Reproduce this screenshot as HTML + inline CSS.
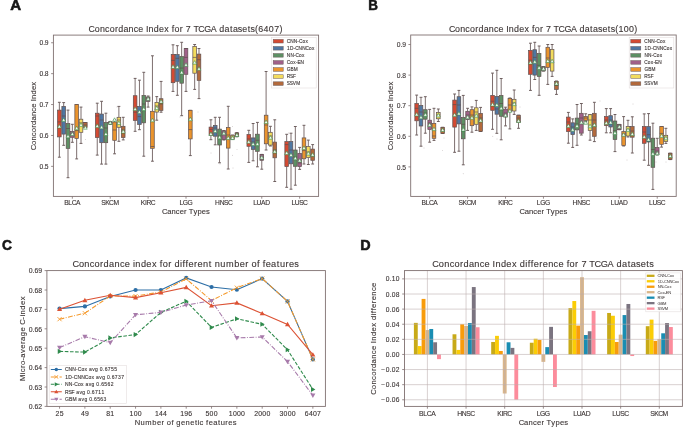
<!DOCTYPE html>
<html><head><meta charset="utf-8"><style>
html,body{margin:0;padding:0;background:#fff;}
svg{display:block;will-change:transform;}
text{font-family:"Liberation Sans", sans-serif;stroke:#3b3434;stroke-width:0.18px;stroke-opacity:0.6;}
</style></head><body>
<svg width="685" height="429" viewBox="0 0 685 429">
<rect width="685" height="429" fill="#fff"/>
<text x="10.3" y="9.6" font-size="14" fill="#161616" font-weight="bold" textLength="10.9" lengthAdjust="spacingAndGlyphs" style="stroke:#161616;stroke-width:0.55px;stroke-opacity:1">A</text>
<text x="368.3" y="9.6" font-size="14" fill="#161616" font-weight="bold" textLength="9.7" lengthAdjust="spacingAndGlyphs" style="stroke:#161616;stroke-width:0.55px;stroke-opacity:1">B</text>
<text x="1.9" y="250.2" font-size="14" fill="#161616" font-weight="bold" textLength="10" lengthAdjust="spacingAndGlyphs" style="stroke:#161616;stroke-width:0.55px;stroke-opacity:1">C</text>
<text x="360.2" y="250.3" font-size="14" fill="#161616" font-weight="bold" textLength="10.4" lengthAdjust="spacingAndGlyphs" style="stroke:#161616;stroke-width:0.55px;stroke-opacity:1">D</text>
<g font-family='"Liberation Sans", sans-serif'>
<circle cx="85.3" cy="139.5" r="0.45" fill="#b0a6a6"/>
<circle cx="211" cy="153" r="0.45" fill="#b0a6a6"/>
<circle cx="232.4" cy="155.3" r="0.45" fill="#b0a6a6"/>
<circle cx="237" cy="149.4" r="0.45" fill="#b0a6a6"/>
<circle cx="232.4" cy="126.4" r="0.45" fill="#b0a6a6"/>
<circle cx="117" cy="107" r="0.45" fill="#b0a6a6"/>
<circle cx="100.5" cy="114" r="0.45" fill="#b0a6a6"/>
<circle cx="180" cy="117" r="0.45" fill="#b0a6a6"/>
<circle cx="288.5" cy="133" r="0.45" fill="#b0a6a6"/>
<circle cx="220" cy="164" r="0.45" fill="#b0a6a6"/>
<circle cx="233" cy="168" r="0.45" fill="#b0a6a6"/>
<circle cx="198" cy="112" r="0.45" fill="#b0a6a6"/>
<line x1="59.35" y1="102.3" x2="59.35" y2="110.1" stroke="#6e5f5f" stroke-width="0.9"/>
<line x1="59.35" y1="136.9" x2="59.35" y2="157.2" stroke="#6e5f5f" stroke-width="0.9"/>
<line x1="57.92" y1="102.3" x2="60.78" y2="102.3" stroke="#6e5f5f" stroke-width="1"/>
<line x1="57.92" y1="157.2" x2="60.78" y2="157.2" stroke="#6e5f5f" stroke-width="1"/>
<rect x="57.54" y="110.1" width="3.63" height="26.8" fill="#d44a32" stroke="#5e4e4e" stroke-width="0.7"/>
<line x1="57.54" y1="121.9" x2="61.17" y2="121.9" stroke="#5e4e4e" stroke-width="0.7"/>
<line x1="63.68" y1="102.6" x2="63.68" y2="106.4" stroke="#6e5f5f" stroke-width="0.9"/>
<line x1="63.68" y1="134.1" x2="63.68" y2="145.3" stroke="#6e5f5f" stroke-width="0.9"/>
<line x1="62.25" y1="102.6" x2="65.11" y2="102.6" stroke="#6e5f5f" stroke-width="1"/>
<line x1="62.25" y1="145.3" x2="65.11" y2="145.3" stroke="#6e5f5f" stroke-width="1"/>
<rect x="61.87" y="106.4" width="3.63" height="27.7" fill="#4f77a2" stroke="#5e4e4e" stroke-width="0.7"/>
<line x1="61.87" y1="116" x2="65.5" y2="116" stroke="#5e4e4e" stroke-width="0.7"/>
<line x1="68.01" y1="110.1" x2="68.01" y2="123.6" stroke="#6e5f5f" stroke-width="0.9"/>
<line x1="68.01" y1="148.4" x2="68.01" y2="177.7" stroke="#6e5f5f" stroke-width="0.9"/>
<line x1="66.58" y1="110.1" x2="69.44" y2="110.1" stroke="#6e5f5f" stroke-width="1"/>
<line x1="66.58" y1="177.7" x2="69.44" y2="177.7" stroke="#6e5f5f" stroke-width="1"/>
<rect x="66.2" y="123.6" width="3.63" height="24.8" fill="#5d9064" stroke="#5e4e4e" stroke-width="0.7"/>
<line x1="66.2" y1="128.5" x2="69.83" y2="128.5" stroke="#5e4e4e" stroke-width="0.7"/>
<line x1="72.34" y1="124.3" x2="72.34" y2="131.5" stroke="#6e5f5f" stroke-width="0.9"/>
<line x1="72.34" y1="137.3" x2="72.34" y2="142.3" stroke="#6e5f5f" stroke-width="0.9"/>
<line x1="70.91" y1="124.3" x2="73.77" y2="124.3" stroke="#6e5f5f" stroke-width="1"/>
<line x1="70.91" y1="142.3" x2="73.77" y2="142.3" stroke="#6e5f5f" stroke-width="1"/>
<rect x="70.53" y="131.5" width="3.63" height="5.8" fill="#a06089" stroke="#5e4e4e" stroke-width="0.7"/>
<line x1="70.53" y1="134" x2="74.16" y2="134" stroke="#5e4e4e" stroke-width="0.7"/>
<line x1="76.67" y1="104.5" x2="76.67" y2="104.5" stroke="#6e5f5f" stroke-width="0.9"/>
<line x1="76.67" y1="138.4" x2="76.67" y2="158.9" stroke="#6e5f5f" stroke-width="0.9"/>
<line x1="75.24" y1="104.5" x2="78.1" y2="104.5" stroke="#6e5f5f" stroke-width="1"/>
<line x1="75.24" y1="158.9" x2="78.1" y2="158.9" stroke="#6e5f5f" stroke-width="1"/>
<rect x="74.86" y="104.5" width="3.63" height="33.9" fill="#ea942d" stroke="#5e4e4e" stroke-width="0.7"/>
<line x1="74.86" y1="130.6" x2="78.49" y2="130.6" stroke="#5e4e4e" stroke-width="0.7"/>
<line x1="81" y1="107.1" x2="81" y2="119.2" stroke="#6e5f5f" stroke-width="0.9"/>
<line x1="81" y1="132.3" x2="81" y2="143.4" stroke="#6e5f5f" stroke-width="0.9"/>
<line x1="79.57" y1="107.1" x2="82.43" y2="107.1" stroke="#6e5f5f" stroke-width="1"/>
<line x1="79.57" y1="143.4" x2="82.43" y2="143.4" stroke="#6e5f5f" stroke-width="1"/>
<rect x="79.19" y="119.2" width="3.63" height="13.1" fill="#f3dc5e" stroke="#5e4e4e" stroke-width="0.7"/>
<line x1="79.19" y1="122.9" x2="82.82" y2="122.9" stroke="#5e4e4e" stroke-width="0.7"/>
<line x1="85.33" y1="122.5" x2="85.33" y2="122.6" stroke="#6e5f5f" stroke-width="0.9"/>
<line x1="85.33" y1="127.6" x2="85.33" y2="128" stroke="#6e5f5f" stroke-width="0.9"/>
<line x1="83.9" y1="122.5" x2="86.76" y2="122.5" stroke="#6e5f5f" stroke-width="1"/>
<line x1="83.9" y1="128" x2="86.76" y2="128" stroke="#6e5f5f" stroke-width="1"/>
<rect x="83.52" y="122.6" width="3.63" height="5" fill="#b3693b" stroke="#5e4e4e" stroke-width="0.7"/>
<line x1="83.52" y1="125" x2="87.15" y2="125" stroke="#5e4e4e" stroke-width="0.7"/>
<path d="M59.35 124.5L57.45 128.02L61.25 128.02Z" fill="#f6faf6" stroke="#2e8b3e" stroke-width="0.55"/>
<path d="M63.68 117.9L61.78 121.41L65.58 121.41Z" fill="#f6faf6" stroke="#2e8b3e" stroke-width="0.55"/>
<path d="M68.01 134.3L66.11 137.81L69.91 137.81Z" fill="#f6faf6" stroke="#2e8b3e" stroke-width="0.55"/>
<path d="M72.34 132L70.44 135.52L74.24 135.52Z" fill="#f6faf6" stroke="#2e8b3e" stroke-width="0.55"/>
<path d="M76.67 126.2L74.77 129.72L78.57 129.72Z" fill="#f6faf6" stroke="#2e8b3e" stroke-width="0.55"/>
<path d="M81 122.9L79.1 126.41L82.9 126.41Z" fill="#f6faf6" stroke="#2e8b3e" stroke-width="0.55"/>
<path d="M85.33 125.7L83.43 129.22L87.23 129.22Z" fill="#f6faf6" stroke="#2e8b3e" stroke-width="0.55"/>
<line x1="97.24" y1="103.2" x2="97.24" y2="113.2" stroke="#6e5f5f" stroke-width="0.9"/>
<line x1="97.24" y1="137.6" x2="97.24" y2="155.1" stroke="#6e5f5f" stroke-width="0.9"/>
<line x1="95.81" y1="103.2" x2="98.67" y2="103.2" stroke="#6e5f5f" stroke-width="1"/>
<line x1="95.81" y1="155.1" x2="98.67" y2="155.1" stroke="#6e5f5f" stroke-width="1"/>
<rect x="95.42" y="113.2" width="3.63" height="24.4" fill="#d44a32" stroke="#5e4e4e" stroke-width="0.7"/>
<line x1="95.42" y1="116" x2="99.05" y2="116" stroke="#5e4e4e" stroke-width="0.7"/>
<line x1="101.57" y1="101.3" x2="101.57" y2="114.1" stroke="#6e5f5f" stroke-width="0.9"/>
<line x1="101.57" y1="142.7" x2="101.57" y2="164.1" stroke="#6e5f5f" stroke-width="0.9"/>
<line x1="100.14" y1="101.3" x2="103" y2="101.3" stroke="#6e5f5f" stroke-width="1"/>
<line x1="100.14" y1="164.1" x2="103" y2="164.1" stroke="#6e5f5f" stroke-width="1"/>
<rect x="99.75" y="114.1" width="3.63" height="28.6" fill="#4f77a2" stroke="#5e4e4e" stroke-width="0.7"/>
<line x1="99.75" y1="120" x2="103.38" y2="120" stroke="#5e4e4e" stroke-width="0.7"/>
<line x1="105.9" y1="113.2" x2="105.9" y2="122.6" stroke="#6e5f5f" stroke-width="0.9"/>
<line x1="105.9" y1="142.7" x2="105.9" y2="164.1" stroke="#6e5f5f" stroke-width="0.9"/>
<line x1="104.47" y1="113.2" x2="107.33" y2="113.2" stroke="#6e5f5f" stroke-width="1"/>
<line x1="104.47" y1="164.1" x2="107.33" y2="164.1" stroke="#6e5f5f" stroke-width="1"/>
<rect x="104.08" y="122.6" width="3.63" height="20.1" fill="#5d9064" stroke="#5e4e4e" stroke-width="0.7"/>
<line x1="104.08" y1="128" x2="107.71" y2="128" stroke="#5e4e4e" stroke-width="0.7"/>
<line x1="110.23" y1="121.5" x2="110.23" y2="121.8" stroke="#6e5f5f" stroke-width="0.9"/>
<line x1="110.23" y1="124" x2="110.23" y2="124.5" stroke="#6e5f5f" stroke-width="0.9"/>
<line x1="108.8" y1="121.5" x2="111.66" y2="121.5" stroke="#6e5f5f" stroke-width="1"/>
<line x1="108.8" y1="124.5" x2="111.66" y2="124.5" stroke="#6e5f5f" stroke-width="1"/>
<rect x="108.41" y="121.8" width="3.63" height="2.2" fill="#a06089" stroke="#5e4e4e" stroke-width="0.7"/>
<line x1="108.41" y1="122.5" x2="112.04" y2="122.5" stroke="#5e4e4e" stroke-width="0.7"/>
<line x1="114.56" y1="120" x2="114.56" y2="122" stroke="#6e5f5f" stroke-width="0.9"/>
<line x1="114.56" y1="140.3" x2="114.56" y2="153.8" stroke="#6e5f5f" stroke-width="0.9"/>
<line x1="113.13" y1="120" x2="115.99" y2="120" stroke="#6e5f5f" stroke-width="1"/>
<line x1="113.13" y1="153.8" x2="115.99" y2="153.8" stroke="#6e5f5f" stroke-width="1"/>
<rect x="112.74" y="122" width="3.63" height="18.3" fill="#ea942d" stroke="#5e4e4e" stroke-width="0.7"/>
<line x1="112.74" y1="130" x2="116.37" y2="130" stroke="#5e4e4e" stroke-width="0.7"/>
<line x1="118.89" y1="106.4" x2="118.89" y2="117.3" stroke="#6e5f5f" stroke-width="0.9"/>
<line x1="118.89" y1="127.3" x2="118.89" y2="141.3" stroke="#6e5f5f" stroke-width="0.9"/>
<line x1="117.46" y1="106.4" x2="120.32" y2="106.4" stroke="#6e5f5f" stroke-width="1"/>
<line x1="117.46" y1="141.3" x2="120.32" y2="141.3" stroke="#6e5f5f" stroke-width="1"/>
<rect x="117.07" y="117.3" width="3.63" height="10" fill="#f3dc5e" stroke="#5e4e4e" stroke-width="0.7"/>
<line x1="117.07" y1="120" x2="120.7" y2="120" stroke="#5e4e4e" stroke-width="0.7"/>
<line x1="123.22" y1="117.3" x2="123.22" y2="126.3" stroke="#6e5f5f" stroke-width="0.9"/>
<line x1="123.22" y1="137.6" x2="123.22" y2="139.9" stroke="#6e5f5f" stroke-width="0.9"/>
<line x1="121.79" y1="117.3" x2="124.65" y2="117.3" stroke="#6e5f5f" stroke-width="1"/>
<line x1="121.79" y1="139.9" x2="124.65" y2="139.9" stroke="#6e5f5f" stroke-width="1"/>
<rect x="121.4" y="126.3" width="3.63" height="11.3" fill="#b3693b" stroke="#5e4e4e" stroke-width="0.7"/>
<line x1="121.4" y1="130" x2="125.03" y2="130" stroke="#5e4e4e" stroke-width="0.7"/>
<path d="M97.24 123.9L95.34 127.41L99.14 127.41Z" fill="#f6faf6" stroke="#2e8b3e" stroke-width="0.55"/>
<path d="M101.57 125.3L99.67 128.81L103.47 128.81Z" fill="#f6faf6" stroke="#2e8b3e" stroke-width="0.55"/>
<path d="M105.9 132L104 135.52L107.8 135.52Z" fill="#f6faf6" stroke="#2e8b3e" stroke-width="0.55"/>
<path d="M110.23 120.8L108.33 124.31L112.13 124.31Z" fill="#f6faf6" stroke="#2e8b3e" stroke-width="0.55"/>
<path d="M114.56 117.8L112.66 121.31L116.46 121.31Z" fill="#f6faf6" stroke="#2e8b3e" stroke-width="0.55"/>
<path d="M118.89 121L116.99 124.52L120.79 124.52Z" fill="#f6faf6" stroke="#2e8b3e" stroke-width="0.55"/>
<path d="M123.22 129.6L121.32 133.12L125.12 133.12Z" fill="#f6faf6" stroke="#2e8b3e" stroke-width="0.55"/>
<line x1="135.12" y1="78.4" x2="135.12" y2="95.7" stroke="#6e5f5f" stroke-width="0.9"/>
<line x1="135.12" y1="120.4" x2="135.12" y2="131.3" stroke="#6e5f5f" stroke-width="0.9"/>
<line x1="133.7" y1="78.4" x2="136.55" y2="78.4" stroke="#6e5f5f" stroke-width="1"/>
<line x1="133.7" y1="131.3" x2="136.55" y2="131.3" stroke="#6e5f5f" stroke-width="1"/>
<rect x="133.31" y="95.7" width="3.63" height="24.7" fill="#d44a32" stroke="#5e4e4e" stroke-width="0.7"/>
<line x1="133.31" y1="112.2" x2="136.94" y2="112.2" stroke="#5e4e4e" stroke-width="0.7"/>
<line x1="139.45" y1="80.2" x2="139.45" y2="106.4" stroke="#6e5f5f" stroke-width="0.9"/>
<line x1="139.45" y1="124.4" x2="139.45" y2="129.7" stroke="#6e5f5f" stroke-width="0.9"/>
<line x1="138.03" y1="80.2" x2="140.88" y2="80.2" stroke="#6e5f5f" stroke-width="1"/>
<line x1="138.03" y1="129.7" x2="140.88" y2="129.7" stroke="#6e5f5f" stroke-width="1"/>
<rect x="137.64" y="106.4" width="3.63" height="18" fill="#4f77a2" stroke="#5e4e4e" stroke-width="0.7"/>
<line x1="137.64" y1="116.6" x2="141.27" y2="116.6" stroke="#5e4e4e" stroke-width="0.7"/>
<line x1="143.78" y1="72.3" x2="143.78" y2="95.4" stroke="#6e5f5f" stroke-width="0.9"/>
<line x1="143.78" y1="122.8" x2="143.78" y2="156.2" stroke="#6e5f5f" stroke-width="0.9"/>
<line x1="142.36" y1="72.3" x2="145.21" y2="72.3" stroke="#6e5f5f" stroke-width="1"/>
<line x1="142.36" y1="156.2" x2="145.21" y2="156.2" stroke="#6e5f5f" stroke-width="1"/>
<rect x="141.97" y="95.4" width="3.63" height="27.4" fill="#5d9064" stroke="#5e4e4e" stroke-width="0.7"/>
<line x1="141.97" y1="104" x2="145.6" y2="104" stroke="#5e4e4e" stroke-width="0.7"/>
<line x1="148.11" y1="96" x2="148.11" y2="97" stroke="#6e5f5f" stroke-width="0.9"/>
<line x1="148.11" y1="101.5" x2="148.11" y2="107.1" stroke="#6e5f5f" stroke-width="0.9"/>
<line x1="146.69" y1="96" x2="149.54" y2="96" stroke="#6e5f5f" stroke-width="1"/>
<line x1="146.69" y1="107.1" x2="149.54" y2="107.1" stroke="#6e5f5f" stroke-width="1"/>
<rect x="146.3" y="97" width="3.63" height="4.5" fill="#a06089" stroke="#5e4e4e" stroke-width="0.7"/>
<line x1="146.3" y1="99" x2="149.93" y2="99" stroke="#5e4e4e" stroke-width="0.7"/>
<line x1="152.44" y1="55.8" x2="152.44" y2="111.3" stroke="#6e5f5f" stroke-width="0.9"/>
<line x1="152.44" y1="148.3" x2="152.44" y2="161.2" stroke="#6e5f5f" stroke-width="0.9"/>
<line x1="151.02" y1="55.8" x2="153.87" y2="55.8" stroke="#6e5f5f" stroke-width="1"/>
<line x1="151.02" y1="161.2" x2="153.87" y2="161.2" stroke="#6e5f5f" stroke-width="1"/>
<rect x="150.63" y="111.3" width="3.63" height="37" fill="#ea942d" stroke="#5e4e4e" stroke-width="0.7"/>
<line x1="150.63" y1="146.5" x2="154.26" y2="146.5" stroke="#5e4e4e" stroke-width="0.7"/>
<line x1="156.77" y1="96.6" x2="156.77" y2="102.5" stroke="#6e5f5f" stroke-width="0.9"/>
<line x1="156.77" y1="112.1" x2="156.77" y2="120.2" stroke="#6e5f5f" stroke-width="0.9"/>
<line x1="155.35" y1="96.6" x2="158.2" y2="96.6" stroke="#6e5f5f" stroke-width="1"/>
<line x1="155.35" y1="120.2" x2="158.2" y2="120.2" stroke="#6e5f5f" stroke-width="1"/>
<rect x="154.96" y="102.5" width="3.63" height="9.6" fill="#f3dc5e" stroke="#5e4e4e" stroke-width="0.7"/>
<line x1="154.96" y1="106" x2="158.59" y2="106" stroke="#5e4e4e" stroke-width="0.7"/>
<line x1="161.1" y1="81.4" x2="161.1" y2="98.7" stroke="#6e5f5f" stroke-width="0.9"/>
<line x1="161.1" y1="110.4" x2="161.1" y2="112.2" stroke="#6e5f5f" stroke-width="0.9"/>
<line x1="159.67" y1="81.4" x2="162.53" y2="81.4" stroke="#6e5f5f" stroke-width="1"/>
<line x1="159.67" y1="112.2" x2="162.53" y2="112.2" stroke="#6e5f5f" stroke-width="1"/>
<rect x="159.29" y="98.7" width="3.63" height="11.7" fill="#b3693b" stroke="#5e4e4e" stroke-width="0.7"/>
<line x1="159.29" y1="104" x2="162.92" y2="104" stroke="#5e4e4e" stroke-width="0.7"/>
<path d="M135.12 107.1L133.22 110.61L137.02 110.61Z" fill="#f6faf6" stroke="#2e8b3e" stroke-width="0.55"/>
<path d="M139.45 109.9L137.55 113.41L141.35 113.41Z" fill="#f6faf6" stroke="#2e8b3e" stroke-width="0.55"/>
<path d="M143.78 107.1L141.88 110.61L145.68 110.61Z" fill="#f6faf6" stroke="#2e8b3e" stroke-width="0.55"/>
<path d="M148.11 96.8L146.21 100.31L150.01 100.31Z" fill="#f6faf6" stroke="#2e8b3e" stroke-width="0.55"/>
<path d="M152.44 118.3L150.54 121.81L154.34 121.81Z" fill="#f6faf6" stroke="#2e8b3e" stroke-width="0.55"/>
<path d="M156.77 106.1L154.87 109.61L158.67 109.61Z" fill="#f6faf6" stroke="#2e8b3e" stroke-width="0.55"/>
<path d="M161.1 99.6L159.2 103.11L163 103.11Z" fill="#f6faf6" stroke="#2e8b3e" stroke-width="0.55"/>
<line x1="173.01" y1="44.8" x2="173.01" y2="54.4" stroke="#6e5f5f" stroke-width="0.9"/>
<line x1="173.01" y1="82.7" x2="173.01" y2="91.4" stroke="#6e5f5f" stroke-width="0.9"/>
<line x1="171.58" y1="44.8" x2="174.44" y2="44.8" stroke="#6e5f5f" stroke-width="1"/>
<line x1="171.58" y1="91.4" x2="174.44" y2="91.4" stroke="#6e5f5f" stroke-width="1"/>
<rect x="171.2" y="54.4" width="3.63" height="28.3" fill="#d44a32" stroke="#5e4e4e" stroke-width="0.7"/>
<line x1="171.2" y1="60.4" x2="174.83" y2="60.4" stroke="#5e4e4e" stroke-width="0.7"/>
<line x1="177.34" y1="45.7" x2="177.34" y2="54.6" stroke="#6e5f5f" stroke-width="0.9"/>
<line x1="177.34" y1="81.3" x2="177.34" y2="95.3" stroke="#6e5f5f" stroke-width="0.9"/>
<line x1="175.91" y1="45.7" x2="178.77" y2="45.7" stroke="#6e5f5f" stroke-width="1"/>
<line x1="175.91" y1="95.3" x2="178.77" y2="95.3" stroke="#6e5f5f" stroke-width="1"/>
<rect x="175.53" y="54.6" width="3.63" height="26.7" fill="#4f77a2" stroke="#5e4e4e" stroke-width="0.7"/>
<line x1="175.53" y1="58.3" x2="179.16" y2="58.3" stroke="#5e4e4e" stroke-width="0.7"/>
<line x1="181.67" y1="42.3" x2="181.67" y2="56.6" stroke="#6e5f5f" stroke-width="0.9"/>
<line x1="181.67" y1="83.2" x2="181.67" y2="115.7" stroke="#6e5f5f" stroke-width="0.9"/>
<line x1="180.24" y1="42.3" x2="183.1" y2="42.3" stroke="#6e5f5f" stroke-width="1"/>
<line x1="180.24" y1="115.7" x2="183.1" y2="115.7" stroke="#6e5f5f" stroke-width="1"/>
<rect x="179.86" y="56.6" width="3.63" height="26.6" fill="#5d9064" stroke="#5e4e4e" stroke-width="0.7"/>
<line x1="179.86" y1="68.1" x2="183.49" y2="68.1" stroke="#5e4e4e" stroke-width="0.7"/>
<line x1="186" y1="48.5" x2="186" y2="48.5" stroke="#6e5f5f" stroke-width="0.9"/>
<line x1="186" y1="74.3" x2="186" y2="91.4" stroke="#6e5f5f" stroke-width="0.9"/>
<line x1="184.57" y1="48.5" x2="187.43" y2="48.5" stroke="#6e5f5f" stroke-width="1"/>
<line x1="184.57" y1="91.4" x2="187.43" y2="91.4" stroke="#6e5f5f" stroke-width="1"/>
<rect x="184.19" y="48.5" width="3.63" height="25.8" fill="#a06089" stroke="#5e4e4e" stroke-width="0.7"/>
<line x1="184.19" y1="57.4" x2="187.81" y2="57.4" stroke="#5e4e4e" stroke-width="0.7"/>
<line x1="190.33" y1="110.3" x2="190.33" y2="110.3" stroke="#6e5f5f" stroke-width="0.9"/>
<line x1="190.33" y1="138.9" x2="190.33" y2="155.6" stroke="#6e5f5f" stroke-width="0.9"/>
<line x1="188.9" y1="110.3" x2="191.76" y2="110.3" stroke="#6e5f5f" stroke-width="1"/>
<line x1="188.9" y1="155.6" x2="191.76" y2="155.6" stroke="#6e5f5f" stroke-width="1"/>
<rect x="188.51" y="110.3" width="3.63" height="28.6" fill="#ea942d" stroke="#5e4e4e" stroke-width="0.7"/>
<line x1="188.51" y1="129.6" x2="192.14" y2="129.6" stroke="#5e4e4e" stroke-width="0.7"/>
<line x1="194.66" y1="44.5" x2="194.66" y2="46.4" stroke="#6e5f5f" stroke-width="0.9"/>
<line x1="194.66" y1="73.2" x2="194.66" y2="89.4" stroke="#6e5f5f" stroke-width="0.9"/>
<line x1="193.23" y1="44.5" x2="196.09" y2="44.5" stroke="#6e5f5f" stroke-width="1"/>
<line x1="193.23" y1="89.4" x2="196.09" y2="89.4" stroke="#6e5f5f" stroke-width="1"/>
<rect x="192.84" y="46.4" width="3.63" height="26.8" fill="#f3dc5e" stroke="#5e4e4e" stroke-width="0.7"/>
<line x1="192.84" y1="57.4" x2="196.47" y2="57.4" stroke="#5e4e4e" stroke-width="0.7"/>
<line x1="198.99" y1="48.5" x2="198.99" y2="54.1" stroke="#6e5f5f" stroke-width="0.9"/>
<line x1="198.99" y1="80.4" x2="198.99" y2="98.6" stroke="#6e5f5f" stroke-width="0.9"/>
<line x1="197.56" y1="48.5" x2="200.42" y2="48.5" stroke="#6e5f5f" stroke-width="1"/>
<line x1="197.56" y1="98.6" x2="200.42" y2="98.6" stroke="#6e5f5f" stroke-width="1"/>
<rect x="197.17" y="54.1" width="3.63" height="26.3" fill="#b3693b" stroke="#5e4e4e" stroke-width="0.7"/>
<line x1="197.17" y1="59.7" x2="200.8" y2="59.7" stroke="#5e4e4e" stroke-width="0.7"/>
<path d="M173.01 64.8L171.11 68.31L174.91 68.31Z" fill="#f6faf6" stroke="#2e8b3e" stroke-width="0.55"/>
<path d="M177.34 65.1L175.44 68.61L179.24 68.61Z" fill="#f6faf6" stroke="#2e8b3e" stroke-width="0.55"/>
<path d="M181.67 70.4L179.77 73.91L183.57 73.91Z" fill="#f6faf6" stroke="#2e8b3e" stroke-width="0.55"/>
<path d="M186 62.8L184.1 66.31L187.9 66.31Z" fill="#f6faf6" stroke="#2e8b3e" stroke-width="0.55"/>
<path d="M190.33 117.2L188.43 120.71L192.23 120.71Z" fill="#f6faf6" stroke="#2e8b3e" stroke-width="0.55"/>
<path d="M194.66 60.6L192.76 64.11L196.56 64.11Z" fill="#f6faf6" stroke="#2e8b3e" stroke-width="0.55"/>
<path d="M198.99 66.7L197.09 70.21L200.89 70.21Z" fill="#f6faf6" stroke="#2e8b3e" stroke-width="0.55"/>
<line x1="210.9" y1="119.8" x2="210.9" y2="127.1" stroke="#6e5f5f" stroke-width="0.9"/>
<line x1="210.9" y1="135.5" x2="210.9" y2="139.7" stroke="#6e5f5f" stroke-width="0.9"/>
<line x1="209.47" y1="119.8" x2="212.33" y2="119.8" stroke="#6e5f5f" stroke-width="1"/>
<line x1="209.47" y1="139.7" x2="212.33" y2="139.7" stroke="#6e5f5f" stroke-width="1"/>
<rect x="209.08" y="127.1" width="3.63" height="8.4" fill="#d44a32" stroke="#5e4e4e" stroke-width="0.7"/>
<line x1="209.08" y1="129.4" x2="212.71" y2="129.4" stroke="#5e4e4e" stroke-width="0.7"/>
<line x1="215.23" y1="117.3" x2="215.23" y2="125.4" stroke="#6e5f5f" stroke-width="0.9"/>
<line x1="215.23" y1="136.2" x2="215.23" y2="144.8" stroke="#6e5f5f" stroke-width="0.9"/>
<line x1="213.8" y1="117.3" x2="216.65" y2="117.3" stroke="#6e5f5f" stroke-width="1"/>
<line x1="213.8" y1="144.8" x2="216.65" y2="144.8" stroke="#6e5f5f" stroke-width="1"/>
<rect x="213.41" y="125.4" width="3.63" height="10.8" fill="#4f77a2" stroke="#5e4e4e" stroke-width="0.7"/>
<line x1="213.41" y1="128" x2="217.04" y2="128" stroke="#5e4e4e" stroke-width="0.7"/>
<line x1="219.56" y1="117.3" x2="219.56" y2="129.1" stroke="#6e5f5f" stroke-width="0.9"/>
<line x1="219.56" y1="145" x2="219.56" y2="162.8" stroke="#6e5f5f" stroke-width="0.9"/>
<line x1="218.13" y1="117.3" x2="220.98" y2="117.3" stroke="#6e5f5f" stroke-width="1"/>
<line x1="218.13" y1="162.8" x2="220.98" y2="162.8" stroke="#6e5f5f" stroke-width="1"/>
<rect x="217.74" y="129.1" width="3.63" height="15.9" fill="#5d9064" stroke="#5e4e4e" stroke-width="0.7"/>
<line x1="217.74" y1="136" x2="221.37" y2="136" stroke="#5e4e4e" stroke-width="0.7"/>
<line x1="223.89" y1="130.6" x2="223.89" y2="130.8" stroke="#6e5f5f" stroke-width="0.9"/>
<line x1="223.89" y1="139.5" x2="223.89" y2="140" stroke="#6e5f5f" stroke-width="0.9"/>
<line x1="222.46" y1="130.6" x2="225.31" y2="130.6" stroke="#6e5f5f" stroke-width="1"/>
<line x1="222.46" y1="140" x2="225.31" y2="140" stroke="#6e5f5f" stroke-width="1"/>
<rect x="222.07" y="130.8" width="3.63" height="8.7" fill="#a06089" stroke="#5e4e4e" stroke-width="0.7"/>
<line x1="222.07" y1="134" x2="225.7" y2="134" stroke="#5e4e4e" stroke-width="0.7"/>
<line x1="228.22" y1="106.3" x2="228.22" y2="127.5" stroke="#6e5f5f" stroke-width="0.9"/>
<line x1="228.22" y1="148.1" x2="228.22" y2="169" stroke="#6e5f5f" stroke-width="0.9"/>
<line x1="226.79" y1="106.3" x2="229.64" y2="106.3" stroke="#6e5f5f" stroke-width="1"/>
<line x1="226.79" y1="169" x2="229.64" y2="169" stroke="#6e5f5f" stroke-width="1"/>
<rect x="226.4" y="127.5" width="3.63" height="20.6" fill="#ea942d" stroke="#5e4e4e" stroke-width="0.7"/>
<line x1="226.4" y1="135" x2="230.03" y2="135" stroke="#5e4e4e" stroke-width="0.7"/>
<line x1="232.55" y1="135" x2="232.55" y2="135.3" stroke="#6e5f5f" stroke-width="0.9"/>
<line x1="232.55" y1="139" x2="232.55" y2="139.5" stroke="#6e5f5f" stroke-width="0.9"/>
<line x1="231.12" y1="135" x2="233.97" y2="135" stroke="#6e5f5f" stroke-width="1"/>
<line x1="231.12" y1="139.5" x2="233.97" y2="139.5" stroke="#6e5f5f" stroke-width="1"/>
<rect x="230.73" y="135.3" width="3.63" height="3.7" fill="#f3dc5e" stroke="#5e4e4e" stroke-width="0.7"/>
<line x1="230.73" y1="137" x2="234.36" y2="137" stroke="#5e4e4e" stroke-width="0.7"/>
<line x1="236.88" y1="132.6" x2="236.88" y2="132.9" stroke="#6e5f5f" stroke-width="0.9"/>
<line x1="236.88" y1="136.6" x2="236.88" y2="136.8" stroke="#6e5f5f" stroke-width="0.9"/>
<line x1="235.45" y1="132.6" x2="238.3" y2="132.6" stroke="#6e5f5f" stroke-width="1"/>
<line x1="235.45" y1="136.8" x2="238.3" y2="136.8" stroke="#6e5f5f" stroke-width="1"/>
<rect x="235.06" y="132.9" width="3.63" height="3.7" fill="#b3693b" stroke="#5e4e4e" stroke-width="0.7"/>
<line x1="235.06" y1="134" x2="238.69" y2="134" stroke="#5e4e4e" stroke-width="0.7"/>
<path d="M210.9 131.9L209 135.42L212.8 135.42Z" fill="#f6faf6" stroke="#2e8b3e" stroke-width="0.55"/>
<path d="M215.23 129.1L213.33 132.62L217.13 132.62Z" fill="#f6faf6" stroke="#2e8b3e" stroke-width="0.55"/>
<path d="M219.56 135.3L217.66 138.81L221.46 138.81Z" fill="#f6faf6" stroke="#2e8b3e" stroke-width="0.55"/>
<path d="M223.89 131.3L221.99 134.81L225.79 134.81Z" fill="#f6faf6" stroke="#2e8b3e" stroke-width="0.55"/>
<path d="M228.22 136L226.32 139.52L230.12 139.52Z" fill="#f6faf6" stroke="#2e8b3e" stroke-width="0.55"/>
<path d="M232.55 136.1L230.65 139.62L234.45 139.62Z" fill="#f6faf6" stroke="#2e8b3e" stroke-width="0.55"/>
<path d="M236.88 133L234.98 136.52L238.78 136.52Z" fill="#f6faf6" stroke="#2e8b3e" stroke-width="0.55"/>
<line x1="248.78" y1="130.3" x2="248.78" y2="134.5" stroke="#6e5f5f" stroke-width="0.9"/>
<line x1="248.78" y1="146.3" x2="248.78" y2="162.4" stroke="#6e5f5f" stroke-width="0.9"/>
<line x1="247.35" y1="130.3" x2="250.21" y2="130.3" stroke="#6e5f5f" stroke-width="1"/>
<line x1="247.35" y1="162.4" x2="250.21" y2="162.4" stroke="#6e5f5f" stroke-width="1"/>
<rect x="246.97" y="134.5" width="3.63" height="11.8" fill="#d44a32" stroke="#5e4e4e" stroke-width="0.7"/>
<line x1="246.97" y1="139" x2="250.6" y2="139" stroke="#5e4e4e" stroke-width="0.7"/>
<line x1="253.11" y1="123.5" x2="253.11" y2="137.9" stroke="#6e5f5f" stroke-width="0.9"/>
<line x1="253.11" y1="149.4" x2="253.11" y2="160.8" stroke="#6e5f5f" stroke-width="0.9"/>
<line x1="251.68" y1="123.5" x2="254.54" y2="123.5" stroke="#6e5f5f" stroke-width="1"/>
<line x1="251.68" y1="160.8" x2="254.54" y2="160.8" stroke="#6e5f5f" stroke-width="1"/>
<rect x="251.3" y="137.9" width="3.63" height="11.5" fill="#4f77a2" stroke="#5e4e4e" stroke-width="0.7"/>
<line x1="251.3" y1="142" x2="254.93" y2="142" stroke="#5e4e4e" stroke-width="0.7"/>
<line x1="257.44" y1="122.4" x2="257.44" y2="134.2" stroke="#6e5f5f" stroke-width="0.9"/>
<line x1="257.44" y1="151.3" x2="257.44" y2="166.8" stroke="#6e5f5f" stroke-width="0.9"/>
<line x1="256.01" y1="122.4" x2="258.87" y2="122.4" stroke="#6e5f5f" stroke-width="1"/>
<line x1="256.01" y1="166.8" x2="258.87" y2="166.8" stroke="#6e5f5f" stroke-width="1"/>
<rect x="255.63" y="134.2" width="3.63" height="17.1" fill="#5d9064" stroke="#5e4e4e" stroke-width="0.7"/>
<line x1="255.63" y1="140.3" x2="259.26" y2="140.3" stroke="#5e4e4e" stroke-width="0.7"/>
<line x1="261.77" y1="154.4" x2="261.77" y2="154.4" stroke="#6e5f5f" stroke-width="0.9"/>
<line x1="261.77" y1="160.3" x2="261.77" y2="169.2" stroke="#6e5f5f" stroke-width="0.9"/>
<line x1="260.34" y1="154.4" x2="263.2" y2="154.4" stroke="#6e5f5f" stroke-width="1"/>
<line x1="260.34" y1="169.2" x2="263.2" y2="169.2" stroke="#6e5f5f" stroke-width="1"/>
<rect x="259.96" y="154.4" width="3.63" height="5.9" fill="#a06089" stroke="#5e4e4e" stroke-width="0.7"/>
<line x1="259.96" y1="157" x2="263.59" y2="157" stroke="#5e4e4e" stroke-width="0.7"/>
<line x1="266.1" y1="71.5" x2="266.1" y2="115.2" stroke="#6e5f5f" stroke-width="0.9"/>
<line x1="266.1" y1="143.8" x2="266.1" y2="150" stroke="#6e5f5f" stroke-width="0.9"/>
<line x1="264.67" y1="71.5" x2="267.53" y2="71.5" stroke="#6e5f5f" stroke-width="1"/>
<line x1="264.67" y1="150" x2="267.53" y2="150" stroke="#6e5f5f" stroke-width="1"/>
<rect x="264.29" y="115.2" width="3.63" height="28.6" fill="#ea942d" stroke="#5e4e4e" stroke-width="0.7"/>
<line x1="264.29" y1="125" x2="267.92" y2="125" stroke="#5e4e4e" stroke-width="0.7"/>
<line x1="270.43" y1="126.3" x2="270.43" y2="132.3" stroke="#6e5f5f" stroke-width="0.9"/>
<line x1="270.43" y1="145.1" x2="270.43" y2="146" stroke="#6e5f5f" stroke-width="0.9"/>
<line x1="269" y1="126.3" x2="271.86" y2="126.3" stroke="#6e5f5f" stroke-width="1"/>
<line x1="269" y1="146" x2="271.86" y2="146" stroke="#6e5f5f" stroke-width="1"/>
<rect x="268.62" y="132.3" width="3.63" height="12.8" fill="#f3dc5e" stroke="#5e4e4e" stroke-width="0.7"/>
<line x1="268.62" y1="136" x2="272.25" y2="136" stroke="#5e4e4e" stroke-width="0.7"/>
<line x1="274.76" y1="119.8" x2="274.76" y2="142.1" stroke="#6e5f5f" stroke-width="0.9"/>
<line x1="274.76" y1="157.8" x2="274.76" y2="181.5" stroke="#6e5f5f" stroke-width="0.9"/>
<line x1="273.33" y1="119.8" x2="276.19" y2="119.8" stroke="#6e5f5f" stroke-width="1"/>
<line x1="273.33" y1="181.5" x2="276.19" y2="181.5" stroke="#6e5f5f" stroke-width="1"/>
<rect x="272.95" y="142.1" width="3.63" height="15.7" fill="#b3693b" stroke="#5e4e4e" stroke-width="0.7"/>
<line x1="272.95" y1="150" x2="276.58" y2="150" stroke="#5e4e4e" stroke-width="0.7"/>
<path d="M248.78 139.8L246.88 143.31L250.68 143.31Z" fill="#f6faf6" stroke="#2e8b3e" stroke-width="0.55"/>
<path d="M253.11 142.1L251.21 145.62L255.01 145.62Z" fill="#f6faf6" stroke="#2e8b3e" stroke-width="0.55"/>
<path d="M257.44 142.1L255.54 145.62L259.34 145.62Z" fill="#f6faf6" stroke="#2e8b3e" stroke-width="0.55"/>
<path d="M261.77 155.6L259.87 159.12L263.67 159.12Z" fill="#f6faf6" stroke="#2e8b3e" stroke-width="0.55"/>
<path d="M266.1 120L264.2 123.52L268 123.52Z" fill="#f6faf6" stroke="#2e8b3e" stroke-width="0.55"/>
<path d="M270.43 135.7L268.53 139.22L272.33 139.22Z" fill="#f6faf6" stroke="#2e8b3e" stroke-width="0.55"/>
<path d="M274.76 149.5L272.86 153.02L276.66 153.02Z" fill="#f6faf6" stroke="#2e8b3e" stroke-width="0.55"/>
<line x1="286.67" y1="134.3" x2="286.67" y2="141.6" stroke="#6e5f5f" stroke-width="0.9"/>
<line x1="286.67" y1="166.6" x2="286.67" y2="187.3" stroke="#6e5f5f" stroke-width="0.9"/>
<line x1="285.24" y1="134.3" x2="288.1" y2="134.3" stroke="#6e5f5f" stroke-width="1"/>
<line x1="285.24" y1="187.3" x2="288.1" y2="187.3" stroke="#6e5f5f" stroke-width="1"/>
<rect x="284.85" y="141.6" width="3.63" height="25" fill="#d44a32" stroke="#5e4e4e" stroke-width="0.7"/>
<line x1="284.85" y1="144.6" x2="288.48" y2="144.6" stroke="#5e4e4e" stroke-width="0.7"/>
<line x1="291" y1="133.2" x2="291" y2="141.6" stroke="#6e5f5f" stroke-width="0.9"/>
<line x1="291" y1="163.8" x2="291" y2="189.2" stroke="#6e5f5f" stroke-width="0.9"/>
<line x1="289.57" y1="133.2" x2="292.43" y2="133.2" stroke="#6e5f5f" stroke-width="1"/>
<line x1="289.57" y1="189.2" x2="292.43" y2="189.2" stroke="#6e5f5f" stroke-width="1"/>
<rect x="289.18" y="141.6" width="3.63" height="22.2" fill="#4f77a2" stroke="#5e4e4e" stroke-width="0.7"/>
<line x1="289.18" y1="150" x2="292.81" y2="150" stroke="#5e4e4e" stroke-width="0.7"/>
<line x1="295.33" y1="126.5" x2="295.33" y2="150" stroke="#6e5f5f" stroke-width="0.9"/>
<line x1="295.33" y1="166.3" x2="295.33" y2="185.2" stroke="#6e5f5f" stroke-width="0.9"/>
<line x1="293.9" y1="126.5" x2="296.76" y2="126.5" stroke="#6e5f5f" stroke-width="1"/>
<line x1="293.9" y1="185.2" x2="296.76" y2="185.2" stroke="#6e5f5f" stroke-width="1"/>
<rect x="293.51" y="150" width="3.63" height="16.3" fill="#5d9064" stroke="#5e4e4e" stroke-width="0.7"/>
<line x1="293.51" y1="157" x2="297.14" y2="157" stroke="#5e4e4e" stroke-width="0.7"/>
<line x1="299.66" y1="147.4" x2="299.66" y2="153.4" stroke="#6e5f5f" stroke-width="0.9"/>
<line x1="299.66" y1="166.6" x2="299.66" y2="169.4" stroke="#6e5f5f" stroke-width="0.9"/>
<line x1="298.23" y1="147.4" x2="301.09" y2="147.4" stroke="#6e5f5f" stroke-width="1"/>
<line x1="298.23" y1="169.4" x2="301.09" y2="169.4" stroke="#6e5f5f" stroke-width="1"/>
<rect x="297.84" y="153.4" width="3.63" height="13.2" fill="#a06089" stroke="#5e4e4e" stroke-width="0.7"/>
<line x1="297.84" y1="163" x2="301.47" y2="163" stroke="#5e4e4e" stroke-width="0.7"/>
<line x1="303.99" y1="125.3" x2="303.99" y2="137.9" stroke="#6e5f5f" stroke-width="0.9"/>
<line x1="303.99" y1="158.8" x2="303.99" y2="164" stroke="#6e5f5f" stroke-width="0.9"/>
<line x1="302.56" y1="125.3" x2="305.42" y2="125.3" stroke="#6e5f5f" stroke-width="1"/>
<line x1="302.56" y1="164" x2="305.42" y2="164" stroke="#6e5f5f" stroke-width="1"/>
<rect x="302.17" y="137.9" width="3.63" height="20.9" fill="#ea942d" stroke="#5e4e4e" stroke-width="0.7"/>
<line x1="302.17" y1="150.6" x2="305.8" y2="150.6" stroke="#5e4e4e" stroke-width="0.7"/>
<line x1="308.32" y1="140.1" x2="308.32" y2="146.6" stroke="#6e5f5f" stroke-width="0.9"/>
<line x1="308.32" y1="157.6" x2="308.32" y2="164.5" stroke="#6e5f5f" stroke-width="0.9"/>
<line x1="306.89" y1="140.1" x2="309.75" y2="140.1" stroke="#6e5f5f" stroke-width="1"/>
<line x1="306.89" y1="164.5" x2="309.75" y2="164.5" stroke="#6e5f5f" stroke-width="1"/>
<rect x="306.5" y="146.6" width="3.63" height="11" fill="#f3dc5e" stroke="#5e4e4e" stroke-width="0.7"/>
<line x1="306.5" y1="152" x2="310.13" y2="152" stroke="#5e4e4e" stroke-width="0.7"/>
<line x1="312.65" y1="144.6" x2="312.65" y2="149.1" stroke="#6e5f5f" stroke-width="0.9"/>
<line x1="312.65" y1="160.3" x2="312.65" y2="164" stroke="#6e5f5f" stroke-width="0.9"/>
<line x1="311.22" y1="144.6" x2="314.08" y2="144.6" stroke="#6e5f5f" stroke-width="1"/>
<line x1="311.22" y1="164" x2="314.08" y2="164" stroke="#6e5f5f" stroke-width="1"/>
<rect x="310.83" y="149.1" width="3.63" height="11.2" fill="#b3693b" stroke="#5e4e4e" stroke-width="0.7"/>
<line x1="310.83" y1="156" x2="314.46" y2="156" stroke="#5e4e4e" stroke-width="0.7"/>
<path d="M286.67 151.1L284.77 154.62L288.57 154.62Z" fill="#f6faf6" stroke="#2e8b3e" stroke-width="0.55"/>
<path d="M291 152.9L289.1 156.42L292.9 156.42Z" fill="#f6faf6" stroke="#2e8b3e" stroke-width="0.55"/>
<path d="M295.33 156.2L293.43 159.72L297.23 159.72Z" fill="#f6faf6" stroke="#2e8b3e" stroke-width="0.55"/>
<path d="M299.66 158.5L297.76 162.02L301.56 162.02Z" fill="#f6faf6" stroke="#2e8b3e" stroke-width="0.55"/>
<path d="M303.99 145.9L302.09 149.42L305.89 149.42Z" fill="#f6faf6" stroke="#2e8b3e" stroke-width="0.55"/>
<path d="M308.32 151.5L306.42 155.02L310.22 155.02Z" fill="#f6faf6" stroke="#2e8b3e" stroke-width="0.55"/>
<path d="M312.65 152.8L310.75 156.31L314.55 156.31Z" fill="#f6faf6" stroke="#2e8b3e" stroke-width="0.55"/>
<rect x="53.4" y="35.1" width="265.2" height="161.3" fill="none" stroke="#7f7070" stroke-width="0.9"/>
<line x1="51.1" y1="166.35" x2="53.4" y2="166.35" stroke="#7f7070" stroke-width="0.8"/>
<text x="39.53 43.13 44.86" y="169.05" font-size="6.72" fill="#3b3434">0.5</text>
<line x1="51.1" y1="135.45" x2="53.4" y2="135.45" stroke="#7f7070" stroke-width="0.8"/>
<text x="39.53 43.13 44.86" y="138.15" font-size="6.72" fill="#3b3434">0.6</text>
<line x1="51.1" y1="104.55" x2="53.4" y2="104.55" stroke="#7f7070" stroke-width="0.8"/>
<text x="39.53 43.13 44.86" y="107.25" font-size="6.72" fill="#3b3434">0.7</text>
<line x1="51.1" y1="73.65" x2="53.4" y2="73.65" stroke="#7f7070" stroke-width="0.8"/>
<text x="39.53 43.13 44.86" y="76.35" font-size="6.72" fill="#3b3434">0.8</text>
<line x1="51.1" y1="42.75" x2="53.4" y2="42.75" stroke="#7f7070" stroke-width="0.8"/>
<text x="39.53 43.13 44.86" y="45.45" font-size="6.72" fill="#3b3434">0.9</text>
<line x1="72.34" y1="196.4" x2="72.34" y2="198.7" stroke="#7f7070" stroke-width="0.8"/>
<text x="64.19 68.35 71.63 76.03" y="205.3" font-size="6.71" fill="#3b3434">BLCA</text>
<line x1="110.23" y1="196.4" x2="110.23" y2="198.7" stroke="#7f7070" stroke-width="0.8"/>
<text x="101.23 105.17 109.11 113.5" y="205.3" font-size="6.71" fill="#3b3434">SKCM</text>
<line x1="148.11" y1="196.4" x2="148.11" y2="198.7" stroke="#7f7070" stroke-width="0.8"/>
<text x="140.73 144.93 146.46 150.71" y="205.3" font-size="6.71" fill="#3b3434">KIRC</text>
<line x1="186" y1="196.4" x2="186" y2="198.7" stroke="#7f7070" stroke-width="0.8"/>
<text x="179.41 182.73 187.45" y="205.3" font-size="6.71" fill="#3b3434">LGG</text>
<line x1="223.89" y1="196.4" x2="223.89" y2="198.7" stroke="#7f7070" stroke-width="0.8"/>
<text x="215.12 219.69 224.09 227.97" y="205.3" font-size="6.71" fill="#3b3434">HNSC</text>
<line x1="261.77" y1="196.4" x2="261.77" y2="198.7" stroke="#7f7070" stroke-width="0.8"/>
<text x="253.24 256.61 261.12 265.37" y="205.3" font-size="6.71" fill="#3b3434">LUAD</text>
<line x1="299.66" y1="196.4" x2="299.66" y2="198.7" stroke="#7f7070" stroke-width="0.8"/>
<text x="291.49 294.87 299.22 303.1" y="205.3" font-size="6.71" fill="#3b3434">LUSC</text>
<text x="162.03 167.21 171.54 175.86 179.69 184.1 186.85 188.8 193.4 197.45 201.79 205.94" y="214.3" font-size="7.6" fill="#3b3434">Cancer Types</text>
<text x="1.14 6.41 10.82 15.23 19.12 23.6 26.44 30.86 35.27 39.67 43.58 47.95 50.12 52.33 56.82 61.25 65.73" y="115.75" font-size="7.7" fill="#3b3434" transform="rotate(-90 35.6 115.75)">Concordance Index</text>
<text x="88.58 94.76 99.93 105.09 109.66 114.9 118.24 123.42 128.59 133.75 138.34 143.45 145.99 148.61 153.87 159.06 164.31 169.08 171.86 174.62 179.85 183.12 185.85 191.04 193.42 198.35 204.22 210.76 216.65 219.37 224.54 229.95 232.88 237.84 242.3 247.72 250.52 255.04 258.31 263.59 268.87 274.15 279.4" y="31.6" font-size="8.9" fill="#3b3434">Concordance Index for 7 TCGA datasets(6407)</text>
<rect x="271.6" y="37.4" width="44.6" height="50.6" fill="#ffffff" stroke="#e4dede" stroke-width="0.6" fill-opacity="0.8"/>
<rect x="273.2" y="39.4" width="10" height="3.6" fill="#d44a32" stroke="#6a5a5a" stroke-width="0.5"/>
<text x="286.74 290.18 293.73 297.29 298.88 302.39 305.38" y="42.95" font-size="4.75" fill="#3b3434">CNN-Cox</text>
<rect x="273.2" y="46.47" width="10" height="3.6" fill="#4f77a2" stroke="#6a5a5a" stroke-width="0.5"/>
<text x="286.99 289.94 293.55 295.14 298.57 302.13 305.56 309.07 312.06" y="50.02" font-size="4.75" fill="#3b3434">1D-CNNCox</text>
<rect x="273.2" y="53.54" width="10" height="3.6" fill="#5d9064" stroke="#6a5a5a" stroke-width="0.5"/>
<text x="286.86 290.41 293.97 295.56 299.07 302.06" y="57.09" font-size="4.75" fill="#3b3434">NN-Cox</text>
<rect x="273.2" y="60.61" width="10" height="3.6" fill="#a06089" stroke="#6a5a5a" stroke-width="0.5"/>
<text x="286.74 290.25 293.24 295.9 297.46 300.61" y="64.16" font-size="4.75" fill="#3b3434">Cox-EN</text>
<rect x="273.2" y="67.68" width="10" height="3.6" fill="#ea942d" stroke="#6a5a5a" stroke-width="0.5"/>
<text x="286.79 290.53 293.81" y="71.23" font-size="4.75" fill="#3b3434">GBM</text>
<rect x="273.2" y="74.75" width="10" height="3.6" fill="#f3dc5e" stroke="#6a5a5a" stroke-width="0.5"/>
<text x="286.74 290.02 293.03" y="78.3" font-size="4.75" fill="#3b3434">RSF</text>
<rect x="273.2" y="81.82" width="10" height="3.6" fill="#b3693b" stroke="#6a5a5a" stroke-width="0.5"/>
<text x="286.72 289.74 292.87 296.15" y="85.37" font-size="4.75" fill="#3b3434">SSVM</text>
</g>
<g font-family='"Liberation Sans", sans-serif'>
<circle cx="463.2" cy="173.7" r="0.45" fill="#b0a6a6"/>
<circle cx="492.8" cy="136.2" r="0.45" fill="#b0a6a6"/>
<circle cx="442.5" cy="150.4" r="0.45" fill="#b0a6a6"/>
<circle cx="520" cy="107" r="0.45" fill="#b0a6a6"/>
<circle cx="497" cy="139" r="0.45" fill="#b0a6a6"/>
<circle cx="600" cy="101" r="0.45" fill="#b0a6a6"/>
<circle cx="627" cy="160" r="0.45" fill="#b0a6a6"/>
<circle cx="424" cy="148" r="0.45" fill="#b0a6a6"/>
<circle cx="597" cy="138" r="0.45" fill="#b0a6a6"/>
<circle cx="656" cy="162" r="0.45" fill="#b0a6a6"/>
<circle cx="666" cy="162" r="0.45" fill="#b0a6a6"/>
<circle cx="633" cy="104" r="0.45" fill="#b0a6a6"/>
<circle cx="444" cy="138" r="0.45" fill="#b0a6a6"/>
<line x1="416.66" y1="95.1" x2="416.66" y2="103.5" stroke="#6e5f5f" stroke-width="0.9"/>
<line x1="416.66" y1="120.8" x2="416.66" y2="135" stroke="#6e5f5f" stroke-width="0.9"/>
<line x1="415.23" y1="95.1" x2="418.09" y2="95.1" stroke="#6e5f5f" stroke-width="1"/>
<line x1="415.23" y1="135" x2="418.09" y2="135" stroke="#6e5f5f" stroke-width="1"/>
<rect x="414.84" y="103.5" width="3.63" height="17.3" fill="#d44a32" stroke="#5e4e4e" stroke-width="0.7"/>
<line x1="414.84" y1="108.3" x2="418.48" y2="108.3" stroke="#5e4e4e" stroke-width="0.7"/>
<line x1="420.99" y1="97.3" x2="420.99" y2="105.5" stroke="#6e5f5f" stroke-width="0.9"/>
<line x1="420.99" y1="126" x2="420.99" y2="146.2" stroke="#6e5f5f" stroke-width="0.9"/>
<line x1="419.56" y1="97.3" x2="422.43" y2="97.3" stroke="#6e5f5f" stroke-width="1"/>
<line x1="419.56" y1="146.2" x2="422.43" y2="146.2" stroke="#6e5f5f" stroke-width="1"/>
<rect x="419.18" y="105.5" width="3.63" height="20.5" fill="#4f77a2" stroke="#5e4e4e" stroke-width="0.7"/>
<line x1="419.18" y1="112" x2="422.81" y2="112" stroke="#5e4e4e" stroke-width="0.7"/>
<line x1="425.33" y1="96.7" x2="425.33" y2="109.7" stroke="#6e5f5f" stroke-width="0.9"/>
<line x1="425.33" y1="119.2" x2="425.33" y2="133.2" stroke="#6e5f5f" stroke-width="0.9"/>
<line x1="423.9" y1="96.7" x2="426.76" y2="96.7" stroke="#6e5f5f" stroke-width="1"/>
<line x1="423.9" y1="133.2" x2="426.76" y2="133.2" stroke="#6e5f5f" stroke-width="1"/>
<rect x="423.51" y="109.7" width="3.63" height="9.5" fill="#5d9064" stroke="#5e4e4e" stroke-width="0.7"/>
<line x1="423.51" y1="113" x2="427.15" y2="113" stroke="#5e4e4e" stroke-width="0.7"/>
<line x1="429.66" y1="109.4" x2="429.66" y2="120.2" stroke="#6e5f5f" stroke-width="0.9"/>
<line x1="429.66" y1="129.5" x2="429.66" y2="142.2" stroke="#6e5f5f" stroke-width="0.9"/>
<line x1="428.23" y1="109.4" x2="431.09" y2="109.4" stroke="#6e5f5f" stroke-width="1"/>
<line x1="428.23" y1="142.2" x2="431.09" y2="142.2" stroke="#6e5f5f" stroke-width="1"/>
<rect x="427.85" y="120.2" width="3.63" height="9.3" fill="#a06089" stroke="#5e4e4e" stroke-width="0.7"/>
<line x1="427.85" y1="123" x2="431.48" y2="123" stroke="#5e4e4e" stroke-width="0.7"/>
<line x1="434" y1="108.3" x2="434" y2="123.4" stroke="#6e5f5f" stroke-width="0.9"/>
<line x1="434" y1="138.3" x2="434" y2="140.4" stroke="#6e5f5f" stroke-width="0.9"/>
<line x1="432.57" y1="108.3" x2="435.43" y2="108.3" stroke="#6e5f5f" stroke-width="1"/>
<line x1="432.57" y1="140.4" x2="435.43" y2="140.4" stroke="#6e5f5f" stroke-width="1"/>
<rect x="432.18" y="123.4" width="3.63" height="14.9" fill="#ea942d" stroke="#5e4e4e" stroke-width="0.7"/>
<line x1="432.18" y1="136" x2="435.82" y2="136" stroke="#5e4e4e" stroke-width="0.7"/>
<line x1="438.33" y1="109" x2="438.33" y2="112.5" stroke="#6e5f5f" stroke-width="0.9"/>
<line x1="438.33" y1="118.8" x2="438.33" y2="121.5" stroke="#6e5f5f" stroke-width="0.9"/>
<line x1="436.9" y1="109" x2="439.76" y2="109" stroke="#6e5f5f" stroke-width="1"/>
<line x1="436.9" y1="121.5" x2="439.76" y2="121.5" stroke="#6e5f5f" stroke-width="1"/>
<rect x="436.52" y="112.5" width="3.63" height="6.3" fill="#f3dc5e" stroke="#5e4e4e" stroke-width="0.7"/>
<line x1="436.52" y1="115" x2="440.15" y2="115" stroke="#5e4e4e" stroke-width="0.7"/>
<line x1="442.67" y1="127.3" x2="442.67" y2="127.3" stroke="#6e5f5f" stroke-width="0.9"/>
<line x1="442.67" y1="133.5" x2="442.67" y2="133.5" stroke="#6e5f5f" stroke-width="0.9"/>
<line x1="441.24" y1="127.3" x2="444.1" y2="127.3" stroke="#6e5f5f" stroke-width="1"/>
<line x1="441.24" y1="133.5" x2="444.1" y2="133.5" stroke="#6e5f5f" stroke-width="1"/>
<rect x="440.85" y="127.3" width="3.63" height="6.2" fill="#b3693b" stroke="#5e4e4e" stroke-width="0.7"/>
<line x1="440.85" y1="130" x2="444.49" y2="130" stroke="#5e4e4e" stroke-width="0.7"/>
<path d="M416.66 112.5L414.76 116.02L418.56 116.02Z" fill="#f6faf6" stroke="#2e8b3e" stroke-width="0.55"/>
<path d="M420.99 115.3L419.09 118.81L422.89 118.81Z" fill="#f6faf6" stroke="#2e8b3e" stroke-width="0.55"/>
<path d="M425.33 112.8L423.43 116.31L427.23 116.31Z" fill="#f6faf6" stroke="#2e8b3e" stroke-width="0.55"/>
<path d="M429.66 122.9L427.76 126.41L431.56 126.41Z" fill="#f6faf6" stroke="#2e8b3e" stroke-width="0.55"/>
<path d="M434 127.1L432.1 130.62L435.9 130.62Z" fill="#f6faf6" stroke="#2e8b3e" stroke-width="0.55"/>
<path d="M438.33 113.4L436.43 116.91L440.23 116.91Z" fill="#f6faf6" stroke="#2e8b3e" stroke-width="0.55"/>
<path d="M442.67 128L440.77 131.52L444.57 131.52Z" fill="#f6faf6" stroke="#2e8b3e" stroke-width="0.55"/>
<line x1="454.59" y1="94" x2="454.59" y2="100.1" stroke="#6e5f5f" stroke-width="0.9"/>
<line x1="454.59" y1="127.1" x2="454.59" y2="152.3" stroke="#6e5f5f" stroke-width="0.9"/>
<line x1="453.16" y1="94" x2="456.02" y2="94" stroke="#6e5f5f" stroke-width="1"/>
<line x1="453.16" y1="152.3" x2="456.02" y2="152.3" stroke="#6e5f5f" stroke-width="1"/>
<rect x="452.77" y="100.1" width="3.63" height="27" fill="#d44a32" stroke="#5e4e4e" stroke-width="0.7"/>
<line x1="452.77" y1="104.6" x2="456.41" y2="104.6" stroke="#5e4e4e" stroke-width="0.7"/>
<line x1="458.92" y1="90.4" x2="458.92" y2="96.7" stroke="#6e5f5f" stroke-width="0.9"/>
<line x1="458.92" y1="123.9" x2="458.92" y2="151.2" stroke="#6e5f5f" stroke-width="0.9"/>
<line x1="457.49" y1="90.4" x2="460.35" y2="90.4" stroke="#6e5f5f" stroke-width="1"/>
<line x1="457.49" y1="151.2" x2="460.35" y2="151.2" stroke="#6e5f5f" stroke-width="1"/>
<rect x="457.11" y="96.7" width="3.63" height="27.2" fill="#4f77a2" stroke="#5e4e4e" stroke-width="0.7"/>
<line x1="457.11" y1="105" x2="460.74" y2="105" stroke="#5e4e4e" stroke-width="0.7"/>
<line x1="463.26" y1="95.4" x2="463.26" y2="117.6" stroke="#6e5f5f" stroke-width="0.9"/>
<line x1="463.26" y1="138.8" x2="463.26" y2="164.8" stroke="#6e5f5f" stroke-width="0.9"/>
<line x1="461.83" y1="95.4" x2="464.69" y2="95.4" stroke="#6e5f5f" stroke-width="1"/>
<line x1="461.83" y1="164.8" x2="464.69" y2="164.8" stroke="#6e5f5f" stroke-width="1"/>
<rect x="461.44" y="117.6" width="3.63" height="21.2" fill="#5d9064" stroke="#5e4e4e" stroke-width="0.7"/>
<line x1="461.44" y1="124.3" x2="465.08" y2="124.3" stroke="#5e4e4e" stroke-width="0.7"/>
<line x1="467.59" y1="108.3" x2="467.59" y2="111.3" stroke="#6e5f5f" stroke-width="0.9"/>
<line x1="467.59" y1="119.5" x2="467.59" y2="130.4" stroke="#6e5f5f" stroke-width="0.9"/>
<line x1="466.16" y1="108.3" x2="469.02" y2="108.3" stroke="#6e5f5f" stroke-width="1"/>
<line x1="466.16" y1="130.4" x2="469.02" y2="130.4" stroke="#6e5f5f" stroke-width="1"/>
<rect x="465.78" y="111.3" width="3.63" height="8.2" fill="#a06089" stroke="#5e4e4e" stroke-width="0.7"/>
<line x1="465.78" y1="115" x2="469.41" y2="115" stroke="#5e4e4e" stroke-width="0.7"/>
<line x1="471.93" y1="106.9" x2="471.93" y2="109.7" stroke="#6e5f5f" stroke-width="0.9"/>
<line x1="471.93" y1="125.7" x2="471.93" y2="132.2" stroke="#6e5f5f" stroke-width="0.9"/>
<line x1="470.5" y1="106.9" x2="473.36" y2="106.9" stroke="#6e5f5f" stroke-width="1"/>
<line x1="470.5" y1="132.2" x2="473.36" y2="132.2" stroke="#6e5f5f" stroke-width="1"/>
<rect x="470.11" y="109.7" width="3.63" height="16" fill="#ea942d" stroke="#5e4e4e" stroke-width="0.7"/>
<line x1="470.11" y1="115" x2="473.74" y2="115" stroke="#5e4e4e" stroke-width="0.7"/>
<line x1="476.26" y1="100.4" x2="476.26" y2="107.8" stroke="#6e5f5f" stroke-width="0.9"/>
<line x1="476.26" y1="124.3" x2="476.26" y2="130.4" stroke="#6e5f5f" stroke-width="0.9"/>
<line x1="474.83" y1="100.4" x2="477.69" y2="100.4" stroke="#6e5f5f" stroke-width="1"/>
<line x1="474.83" y1="130.4" x2="477.69" y2="130.4" stroke="#6e5f5f" stroke-width="1"/>
<rect x="474.44" y="107.8" width="3.63" height="16.5" fill="#f3dc5e" stroke="#5e4e4e" stroke-width="0.7"/>
<line x1="474.44" y1="112" x2="478.08" y2="112" stroke="#5e4e4e" stroke-width="0.7"/>
<line x1="480.6" y1="107.4" x2="480.6" y2="113.4" stroke="#6e5f5f" stroke-width="0.9"/>
<line x1="480.6" y1="131.3" x2="480.6" y2="131.5" stroke="#6e5f5f" stroke-width="0.9"/>
<line x1="479.17" y1="107.4" x2="482.03" y2="107.4" stroke="#6e5f5f" stroke-width="1"/>
<line x1="479.17" y1="131.5" x2="482.03" y2="131.5" stroke="#6e5f5f" stroke-width="1"/>
<rect x="478.78" y="113.4" width="3.63" height="17.9" fill="#b3693b" stroke="#5e4e4e" stroke-width="0.7"/>
<line x1="478.78" y1="118" x2="482.41" y2="118" stroke="#5e4e4e" stroke-width="0.7"/>
<path d="M454.59 112.9L452.69 116.41L456.49 116.41Z" fill="#f6faf6" stroke="#2e8b3e" stroke-width="0.55"/>
<path d="M458.92 111.5L457.02 115.02L460.82 115.02Z" fill="#f6faf6" stroke="#2e8b3e" stroke-width="0.55"/>
<path d="M463.26 127.6L461.36 131.12L465.16 131.12Z" fill="#f6faf6" stroke="#2e8b3e" stroke-width="0.55"/>
<path d="M467.59 115.3L465.69 118.81L469.49 118.81Z" fill="#f6faf6" stroke="#2e8b3e" stroke-width="0.55"/>
<path d="M471.93 115.7L470.03 119.21L473.83 119.21Z" fill="#f6faf6" stroke="#2e8b3e" stroke-width="0.55"/>
<path d="M476.26 113.7L474.36 117.21L478.16 117.21Z" fill="#f6faf6" stroke="#2e8b3e" stroke-width="0.55"/>
<path d="M480.6 118.5L478.7 122.02L482.5 122.02Z" fill="#f6faf6" stroke="#2e8b3e" stroke-width="0.55"/>
<line x1="492.52" y1="73.1" x2="492.52" y2="95.4" stroke="#6e5f5f" stroke-width="0.9"/>
<line x1="492.52" y1="110.3" x2="492.52" y2="129.3" stroke="#6e5f5f" stroke-width="0.9"/>
<line x1="491.09" y1="73.1" x2="493.95" y2="73.1" stroke="#6e5f5f" stroke-width="1"/>
<line x1="491.09" y1="129.3" x2="493.95" y2="129.3" stroke="#6e5f5f" stroke-width="1"/>
<rect x="490.7" y="95.4" width="3.63" height="14.9" fill="#d44a32" stroke="#5e4e4e" stroke-width="0.7"/>
<line x1="490.7" y1="101.2" x2="494.33" y2="101.2" stroke="#5e4e4e" stroke-width="0.7"/>
<line x1="496.85" y1="70.3" x2="496.85" y2="96.5" stroke="#6e5f5f" stroke-width="0.9"/>
<line x1="496.85" y1="114.2" x2="496.85" y2="133.3" stroke="#6e5f5f" stroke-width="0.9"/>
<line x1="495.42" y1="70.3" x2="498.28" y2="70.3" stroke="#6e5f5f" stroke-width="1"/>
<line x1="495.42" y1="133.3" x2="498.28" y2="133.3" stroke="#6e5f5f" stroke-width="1"/>
<rect x="495.03" y="96.5" width="3.63" height="17.7" fill="#4f77a2" stroke="#5e4e4e" stroke-width="0.7"/>
<line x1="495.03" y1="109" x2="498.67" y2="109" stroke="#5e4e4e" stroke-width="0.7"/>
<line x1="501.19" y1="78.5" x2="501.19" y2="95.5" stroke="#6e5f5f" stroke-width="0.9"/>
<line x1="501.19" y1="116.3" x2="501.19" y2="139.8" stroke="#6e5f5f" stroke-width="0.9"/>
<line x1="499.76" y1="78.5" x2="502.62" y2="78.5" stroke="#6e5f5f" stroke-width="1"/>
<line x1="499.76" y1="139.8" x2="502.62" y2="139.8" stroke="#6e5f5f" stroke-width="1"/>
<rect x="499.37" y="95.5" width="3.63" height="20.8" fill="#5d9064" stroke="#5e4e4e" stroke-width="0.7"/>
<line x1="499.37" y1="103.5" x2="503" y2="103.5" stroke="#5e4e4e" stroke-width="0.7"/>
<line x1="505.52" y1="107.2" x2="505.52" y2="109.1" stroke="#6e5f5f" stroke-width="0.9"/>
<line x1="505.52" y1="117" x2="505.52" y2="125.9" stroke="#6e5f5f" stroke-width="0.9"/>
<line x1="504.09" y1="107.2" x2="506.95" y2="107.2" stroke="#6e5f5f" stroke-width="1"/>
<line x1="504.09" y1="125.9" x2="506.95" y2="125.9" stroke="#6e5f5f" stroke-width="1"/>
<rect x="503.7" y="109.1" width="3.63" height="7.9" fill="#a06089" stroke="#5e4e4e" stroke-width="0.7"/>
<line x1="503.7" y1="113" x2="507.34" y2="113" stroke="#5e4e4e" stroke-width="0.7"/>
<line x1="509.86" y1="98" x2="509.86" y2="98.4" stroke="#6e5f5f" stroke-width="0.9"/>
<line x1="509.86" y1="111.4" x2="509.86" y2="128.9" stroke="#6e5f5f" stroke-width="0.9"/>
<line x1="508.43" y1="98" x2="511.29" y2="98" stroke="#6e5f5f" stroke-width="1"/>
<line x1="508.43" y1="128.9" x2="511.29" y2="128.9" stroke="#6e5f5f" stroke-width="1"/>
<rect x="508.04" y="98.4" width="3.63" height="13" fill="#ea942d" stroke="#5e4e4e" stroke-width="0.7"/>
<line x1="508.04" y1="105" x2="511.67" y2="105" stroke="#5e4e4e" stroke-width="0.7"/>
<line x1="514.19" y1="90" x2="514.19" y2="99.3" stroke="#6e5f5f" stroke-width="0.9"/>
<line x1="514.19" y1="111" x2="514.19" y2="114.4" stroke="#6e5f5f" stroke-width="0.9"/>
<line x1="512.76" y1="90" x2="515.62" y2="90" stroke="#6e5f5f" stroke-width="1"/>
<line x1="512.76" y1="114.4" x2="515.62" y2="114.4" stroke="#6e5f5f" stroke-width="1"/>
<rect x="512.37" y="99.3" width="3.63" height="11.7" fill="#f3dc5e" stroke="#5e4e4e" stroke-width="0.7"/>
<line x1="512.37" y1="103" x2="516.01" y2="103" stroke="#5e4e4e" stroke-width="0.7"/>
<line x1="518.53" y1="115.2" x2="518.53" y2="115.2" stroke="#6e5f5f" stroke-width="0.9"/>
<line x1="518.53" y1="122.6" x2="518.53" y2="128.3" stroke="#6e5f5f" stroke-width="0.9"/>
<line x1="517.1" y1="115.2" x2="519.96" y2="115.2" stroke="#6e5f5f" stroke-width="1"/>
<line x1="517.1" y1="128.3" x2="519.96" y2="128.3" stroke="#6e5f5f" stroke-width="1"/>
<rect x="516.71" y="115.2" width="3.63" height="7.4" fill="#b3693b" stroke="#5e4e4e" stroke-width="0.7"/>
<line x1="516.71" y1="118" x2="520.34" y2="118" stroke="#5e4e4e" stroke-width="0.7"/>
<path d="M492.52 102.6L490.62 106.11L494.42 106.11Z" fill="#f6faf6" stroke="#2e8b3e" stroke-width="0.55"/>
<path d="M496.85 103L494.95 106.52L498.75 106.52Z" fill="#f6faf6" stroke="#2e8b3e" stroke-width="0.55"/>
<path d="M501.19 106.3L499.29 109.81L503.09 109.81Z" fill="#f6faf6" stroke="#2e8b3e" stroke-width="0.55"/>
<path d="M505.52 113.3L503.62 116.81L507.42 116.81Z" fill="#f6faf6" stroke="#2e8b3e" stroke-width="0.55"/>
<path d="M509.86 108.8L507.96 112.31L511.76 112.31Z" fill="#f6faf6" stroke="#2e8b3e" stroke-width="0.55"/>
<path d="M514.19 102.1L512.29 105.61L516.09 105.61Z" fill="#f6faf6" stroke="#2e8b3e" stroke-width="0.55"/>
<path d="M518.53 118.9L516.63 122.41L520.43 122.41Z" fill="#f6faf6" stroke="#2e8b3e" stroke-width="0.55"/>
<line x1="530.45" y1="43.2" x2="530.45" y2="50.4" stroke="#6e5f5f" stroke-width="0.9"/>
<line x1="530.45" y1="74.3" x2="530.45" y2="90.4" stroke="#6e5f5f" stroke-width="0.9"/>
<line x1="529.02" y1="43.2" x2="531.88" y2="43.2" stroke="#6e5f5f" stroke-width="1"/>
<line x1="529.02" y1="90.4" x2="531.88" y2="90.4" stroke="#6e5f5f" stroke-width="1"/>
<rect x="528.63" y="50.4" width="3.63" height="23.9" fill="#d44a32" stroke="#5e4e4e" stroke-width="0.7"/>
<line x1="528.63" y1="60.2" x2="532.26" y2="60.2" stroke="#5e4e4e" stroke-width="0.7"/>
<line x1="534.78" y1="42.3" x2="534.78" y2="49.7" stroke="#6e5f5f" stroke-width="0.9"/>
<line x1="534.78" y1="75.1" x2="534.78" y2="79.5" stroke="#6e5f5f" stroke-width="0.9"/>
<line x1="533.35" y1="42.3" x2="536.21" y2="42.3" stroke="#6e5f5f" stroke-width="1"/>
<line x1="533.35" y1="79.5" x2="536.21" y2="79.5" stroke="#6e5f5f" stroke-width="1"/>
<rect x="532.96" y="49.7" width="3.63" height="25.4" fill="#4f77a2" stroke="#5e4e4e" stroke-width="0.7"/>
<line x1="532.96" y1="57.4" x2="536.6" y2="57.4" stroke="#5e4e4e" stroke-width="0.7"/>
<line x1="539.12" y1="46" x2="539.12" y2="53.6" stroke="#6e5f5f" stroke-width="0.9"/>
<line x1="539.12" y1="76.4" x2="539.12" y2="95.3" stroke="#6e5f5f" stroke-width="0.9"/>
<line x1="537.68" y1="46" x2="540.55" y2="46" stroke="#6e5f5f" stroke-width="1"/>
<line x1="537.68" y1="95.3" x2="540.55" y2="95.3" stroke="#6e5f5f" stroke-width="1"/>
<rect x="537.3" y="53.6" width="3.63" height="22.8" fill="#5d9064" stroke="#5e4e4e" stroke-width="0.7"/>
<line x1="537.3" y1="65.3" x2="540.93" y2="65.3" stroke="#5e4e4e" stroke-width="0.7"/>
<line x1="543.45" y1="66.7" x2="543.45" y2="66.7" stroke="#6e5f5f" stroke-width="0.9"/>
<line x1="543.45" y1="70.9" x2="543.45" y2="71.1" stroke="#6e5f5f" stroke-width="0.9"/>
<line x1="542.02" y1="66.7" x2="544.88" y2="66.7" stroke="#6e5f5f" stroke-width="1"/>
<line x1="542.02" y1="71.1" x2="544.88" y2="71.1" stroke="#6e5f5f" stroke-width="1"/>
<rect x="541.63" y="66.7" width="3.63" height="4.2" fill="#a06089" stroke="#5e4e4e" stroke-width="0.7"/>
<line x1="541.63" y1="68" x2="545.27" y2="68" stroke="#5e4e4e" stroke-width="0.7"/>
<line x1="547.78" y1="44.5" x2="547.78" y2="47.3" stroke="#6e5f5f" stroke-width="0.9"/>
<line x1="547.78" y1="67.4" x2="547.78" y2="84.4" stroke="#6e5f5f" stroke-width="0.9"/>
<line x1="546.35" y1="44.5" x2="549.22" y2="44.5" stroke="#6e5f5f" stroke-width="1"/>
<line x1="546.35" y1="84.4" x2="549.22" y2="84.4" stroke="#6e5f5f" stroke-width="1"/>
<rect x="545.97" y="47.3" width="3.63" height="20.1" fill="#ea942d" stroke="#5e4e4e" stroke-width="0.7"/>
<line x1="545.97" y1="58" x2="549.6" y2="58" stroke="#5e4e4e" stroke-width="0.7"/>
<line x1="552.12" y1="44.5" x2="552.12" y2="49.5" stroke="#6e5f5f" stroke-width="0.9"/>
<line x1="552.12" y1="71.1" x2="552.12" y2="76.4" stroke="#6e5f5f" stroke-width="0.9"/>
<line x1="550.69" y1="44.5" x2="553.55" y2="44.5" stroke="#6e5f5f" stroke-width="1"/>
<line x1="550.69" y1="76.4" x2="553.55" y2="76.4" stroke="#6e5f5f" stroke-width="1"/>
<rect x="550.3" y="49.5" width="3.63" height="21.6" fill="#f3dc5e" stroke="#5e4e4e" stroke-width="0.7"/>
<line x1="550.3" y1="62" x2="553.94" y2="62" stroke="#5e4e4e" stroke-width="0.7"/>
<line x1="556.45" y1="81" x2="556.45" y2="81.3" stroke="#6e5f5f" stroke-width="0.9"/>
<line x1="556.45" y1="89.4" x2="556.45" y2="94.4" stroke="#6e5f5f" stroke-width="0.9"/>
<line x1="555.02" y1="81" x2="557.88" y2="81" stroke="#6e5f5f" stroke-width="1"/>
<line x1="555.02" y1="94.4" x2="557.88" y2="94.4" stroke="#6e5f5f" stroke-width="1"/>
<rect x="554.64" y="81.3" width="3.63" height="8.1" fill="#b3693b" stroke="#5e4e4e" stroke-width="0.7"/>
<line x1="554.64" y1="85.5" x2="558.27" y2="85.5" stroke="#5e4e4e" stroke-width="0.7"/>
<path d="M530.45 60.6L528.55 64.11L532.35 64.11Z" fill="#f6faf6" stroke="#2e8b3e" stroke-width="0.55"/>
<path d="M534.78 59.7L532.88 63.22L536.68 63.22Z" fill="#f6faf6" stroke="#2e8b3e" stroke-width="0.55"/>
<path d="M539.12 65.7L537.22 69.21L541.02 69.21Z" fill="#f6faf6" stroke="#2e8b3e" stroke-width="0.55"/>
<path d="M543.45 66.7L541.55 70.21L545.35 70.21Z" fill="#f6faf6" stroke="#2e8b3e" stroke-width="0.55"/>
<path d="M547.78 59L545.88 62.52L549.68 62.52Z" fill="#f6faf6" stroke="#2e8b3e" stroke-width="0.55"/>
<path d="M552.12 59.2L550.22 62.72L554.02 62.72Z" fill="#f6faf6" stroke="#2e8b3e" stroke-width="0.55"/>
<path d="M556.45 81.6L554.55 85.11L558.35 85.11Z" fill="#f6faf6" stroke="#2e8b3e" stroke-width="0.55"/>
<line x1="568.37" y1="112.4" x2="568.37" y2="117.1" stroke="#6e5f5f" stroke-width="0.9"/>
<line x1="568.37" y1="131.6" x2="568.37" y2="143.2" stroke="#6e5f5f" stroke-width="0.9"/>
<line x1="566.94" y1="112.4" x2="569.8" y2="112.4" stroke="#6e5f5f" stroke-width="1"/>
<line x1="566.94" y1="143.2" x2="569.8" y2="143.2" stroke="#6e5f5f" stroke-width="1"/>
<rect x="566.56" y="117.1" width="3.63" height="14.5" fill="#d44a32" stroke="#5e4e4e" stroke-width="0.7"/>
<line x1="566.56" y1="122" x2="570.19" y2="122" stroke="#5e4e4e" stroke-width="0.7"/>
<line x1="572.71" y1="118.9" x2="572.71" y2="122.8" stroke="#6e5f5f" stroke-width="0.9"/>
<line x1="572.71" y1="134.6" x2="572.71" y2="147.4" stroke="#6e5f5f" stroke-width="0.9"/>
<line x1="571.28" y1="118.9" x2="574.14" y2="118.9" stroke="#6e5f5f" stroke-width="1"/>
<line x1="571.28" y1="147.4" x2="574.14" y2="147.4" stroke="#6e5f5f" stroke-width="1"/>
<rect x="570.89" y="122.8" width="3.63" height="11.8" fill="#4f77a2" stroke="#5e4e4e" stroke-width="0.7"/>
<line x1="570.89" y1="127" x2="574.53" y2="127" stroke="#5e4e4e" stroke-width="0.7"/>
<line x1="577.04" y1="104.5" x2="577.04" y2="118.1" stroke="#6e5f5f" stroke-width="0.9"/>
<line x1="577.04" y1="129.9" x2="577.04" y2="145.3" stroke="#6e5f5f" stroke-width="0.9"/>
<line x1="575.61" y1="104.5" x2="578.47" y2="104.5" stroke="#6e5f5f" stroke-width="1"/>
<line x1="575.61" y1="145.3" x2="578.47" y2="145.3" stroke="#6e5f5f" stroke-width="1"/>
<rect x="575.23" y="118.1" width="3.63" height="11.8" fill="#5d9064" stroke="#5e4e4e" stroke-width="0.7"/>
<line x1="575.23" y1="124" x2="578.86" y2="124" stroke="#5e4e4e" stroke-width="0.7"/>
<line x1="581.38" y1="103.5" x2="581.38" y2="113.3" stroke="#6e5f5f" stroke-width="0.9"/>
<line x1="581.38" y1="133.2" x2="581.38" y2="135" stroke="#6e5f5f" stroke-width="0.9"/>
<line x1="579.95" y1="103.5" x2="582.81" y2="103.5" stroke="#6e5f5f" stroke-width="1"/>
<line x1="579.95" y1="135" x2="582.81" y2="135" stroke="#6e5f5f" stroke-width="1"/>
<rect x="579.56" y="113.3" width="3.63" height="19.9" fill="#a06089" stroke="#5e4e4e" stroke-width="0.7"/>
<line x1="579.56" y1="118" x2="583.2" y2="118" stroke="#5e4e4e" stroke-width="0.7"/>
<line x1="585.71" y1="113.8" x2="585.71" y2="116.5" stroke="#6e5f5f" stroke-width="0.9"/>
<line x1="585.71" y1="120.6" x2="585.71" y2="121.5" stroke="#6e5f5f" stroke-width="0.9"/>
<line x1="584.28" y1="113.8" x2="587.14" y2="113.8" stroke="#6e5f5f" stroke-width="1"/>
<line x1="584.28" y1="121.5" x2="587.14" y2="121.5" stroke="#6e5f5f" stroke-width="1"/>
<rect x="583.9" y="116.5" width="3.63" height="4.1" fill="#ea942d" stroke="#5e4e4e" stroke-width="0.7"/>
<line x1="583.9" y1="118" x2="587.53" y2="118" stroke="#5e4e4e" stroke-width="0.7"/>
<line x1="590.05" y1="114.7" x2="590.05" y2="114.7" stroke="#6e5f5f" stroke-width="0.9"/>
<line x1="590.05" y1="130.4" x2="590.05" y2="140.2" stroke="#6e5f5f" stroke-width="0.9"/>
<line x1="588.62" y1="114.7" x2="591.48" y2="114.7" stroke="#6e5f5f" stroke-width="1"/>
<line x1="588.62" y1="140.2" x2="591.48" y2="140.2" stroke="#6e5f5f" stroke-width="1"/>
<rect x="588.23" y="114.7" width="3.63" height="15.7" fill="#f3dc5e" stroke="#5e4e4e" stroke-width="0.7"/>
<line x1="588.23" y1="120" x2="591.87" y2="120" stroke="#5e4e4e" stroke-width="0.7"/>
<line x1="594.38" y1="102.3" x2="594.38" y2="113.3" stroke="#6e5f5f" stroke-width="0.9"/>
<line x1="594.38" y1="136.3" x2="594.38" y2="141.6" stroke="#6e5f5f" stroke-width="0.9"/>
<line x1="592.95" y1="102.3" x2="595.81" y2="102.3" stroke="#6e5f5f" stroke-width="1"/>
<line x1="592.95" y1="141.6" x2="595.81" y2="141.6" stroke="#6e5f5f" stroke-width="1"/>
<rect x="592.57" y="113.3" width="3.63" height="23" fill="#b3693b" stroke="#5e4e4e" stroke-width="0.7"/>
<line x1="592.57" y1="120" x2="596.2" y2="120" stroke="#5e4e4e" stroke-width="0.7"/>
<path d="M568.37 123.9L566.47 127.41L570.27 127.41Z" fill="#f6faf6" stroke="#2e8b3e" stroke-width="0.55"/>
<path d="M572.71 127.7L570.81 131.22L574.61 131.22Z" fill="#f6faf6" stroke="#2e8b3e" stroke-width="0.55"/>
<path d="M577.04 123.9L575.14 127.41L578.94 127.41Z" fill="#f6faf6" stroke="#2e8b3e" stroke-width="0.55"/>
<path d="M581.38 120.4L579.48 123.91L583.28 123.91Z" fill="#f6faf6" stroke="#2e8b3e" stroke-width="0.55"/>
<path d="M585.71 120.8L583.81 124.31L587.61 124.31Z" fill="#f6faf6" stroke="#2e8b3e" stroke-width="0.55"/>
<path d="M590.05 124.2L588.15 127.71L591.95 127.71Z" fill="#f6faf6" stroke="#2e8b3e" stroke-width="0.55"/>
<path d="M594.38 123L592.48 126.52L596.28 126.52Z" fill="#f6faf6" stroke="#2e8b3e" stroke-width="0.55"/>
<line x1="606.3" y1="108.6" x2="606.3" y2="116.6" stroke="#6e5f5f" stroke-width="0.9"/>
<line x1="606.3" y1="125.6" x2="606.3" y2="132.8" stroke="#6e5f5f" stroke-width="0.9"/>
<line x1="604.87" y1="108.6" x2="607.73" y2="108.6" stroke="#6e5f5f" stroke-width="1"/>
<line x1="604.87" y1="132.8" x2="607.73" y2="132.8" stroke="#6e5f5f" stroke-width="1"/>
<rect x="604.49" y="116.6" width="3.63" height="9" fill="#d44a32" stroke="#5e4e4e" stroke-width="0.7"/>
<line x1="604.49" y1="120" x2="608.12" y2="120" stroke="#5e4e4e" stroke-width="0.7"/>
<line x1="610.64" y1="108.6" x2="610.64" y2="115.7" stroke="#6e5f5f" stroke-width="0.9"/>
<line x1="610.64" y1="127" x2="610.64" y2="132.8" stroke="#6e5f5f" stroke-width="0.9"/>
<line x1="609.21" y1="108.6" x2="612.07" y2="108.6" stroke="#6e5f5f" stroke-width="1"/>
<line x1="609.21" y1="132.8" x2="612.07" y2="132.8" stroke="#6e5f5f" stroke-width="1"/>
<rect x="608.82" y="115.7" width="3.63" height="11.3" fill="#4f77a2" stroke="#5e4e4e" stroke-width="0.7"/>
<line x1="608.82" y1="120" x2="612.46" y2="120" stroke="#5e4e4e" stroke-width="0.7"/>
<line x1="614.97" y1="114.5" x2="614.97" y2="121" stroke="#6e5f5f" stroke-width="0.9"/>
<line x1="614.97" y1="139.5" x2="614.97" y2="151.6" stroke="#6e5f5f" stroke-width="0.9"/>
<line x1="613.54" y1="114.5" x2="616.4" y2="114.5" stroke="#6e5f5f" stroke-width="1"/>
<line x1="613.54" y1="151.6" x2="616.4" y2="151.6" stroke="#6e5f5f" stroke-width="1"/>
<rect x="613.16" y="121" width="3.63" height="18.5" fill="#5d9064" stroke="#5e4e4e" stroke-width="0.7"/>
<line x1="613.16" y1="130.7" x2="616.79" y2="130.7" stroke="#5e4e4e" stroke-width="0.7"/>
<line x1="619.31" y1="124.4" x2="619.31" y2="124.4" stroke="#6e5f5f" stroke-width="0.9"/>
<line x1="619.31" y1="129.7" x2="619.31" y2="129.7" stroke="#6e5f5f" stroke-width="0.9"/>
<line x1="617.88" y1="124.4" x2="620.74" y2="124.4" stroke="#6e5f5f" stroke-width="1"/>
<line x1="617.88" y1="129.7" x2="620.74" y2="129.7" stroke="#6e5f5f" stroke-width="1"/>
<rect x="617.49" y="124.4" width="3.63" height="5.3" fill="#a06089" stroke="#5e4e4e" stroke-width="0.7"/>
<line x1="617.49" y1="126" x2="621.12" y2="126" stroke="#5e4e4e" stroke-width="0.7"/>
<line x1="623.64" y1="116.6" x2="623.64" y2="131.6" stroke="#6e5f5f" stroke-width="0.9"/>
<line x1="623.64" y1="145.5" x2="623.64" y2="146" stroke="#6e5f5f" stroke-width="0.9"/>
<line x1="622.21" y1="116.6" x2="625.07" y2="116.6" stroke="#6e5f5f" stroke-width="1"/>
<line x1="622.21" y1="146" x2="625.07" y2="146" stroke="#6e5f5f" stroke-width="1"/>
<rect x="621.82" y="131.6" width="3.63" height="13.9" fill="#ea942d" stroke="#5e4e4e" stroke-width="0.7"/>
<line x1="621.82" y1="134" x2="625.46" y2="134" stroke="#5e4e4e" stroke-width="0.7"/>
<line x1="627.98" y1="120.3" x2="627.98" y2="126.6" stroke="#6e5f5f" stroke-width="0.9"/>
<line x1="627.98" y1="136" x2="627.98" y2="137" stroke="#6e5f5f" stroke-width="0.9"/>
<line x1="626.55" y1="120.3" x2="629.41" y2="120.3" stroke="#6e5f5f" stroke-width="1"/>
<line x1="626.55" y1="137" x2="629.41" y2="137" stroke="#6e5f5f" stroke-width="1"/>
<rect x="626.16" y="126.6" width="3.63" height="9.4" fill="#f3dc5e" stroke="#5e4e4e" stroke-width="0.7"/>
<line x1="626.16" y1="130" x2="629.79" y2="130" stroke="#5e4e4e" stroke-width="0.7"/>
<line x1="632.31" y1="116.8" x2="632.31" y2="126.6" stroke="#6e5f5f" stroke-width="0.9"/>
<line x1="632.31" y1="137.2" x2="632.31" y2="153" stroke="#6e5f5f" stroke-width="0.9"/>
<line x1="630.88" y1="116.8" x2="633.74" y2="116.8" stroke="#6e5f5f" stroke-width="1"/>
<line x1="630.88" y1="153" x2="633.74" y2="153" stroke="#6e5f5f" stroke-width="1"/>
<rect x="630.49" y="126.6" width="3.63" height="10.6" fill="#b3693b" stroke="#5e4e4e" stroke-width="0.7"/>
<line x1="630.49" y1="131" x2="634.13" y2="131" stroke="#5e4e4e" stroke-width="0.7"/>
<path d="M606.3 120.9L604.4 124.41L608.2 124.41Z" fill="#f6faf6" stroke="#2e8b3e" stroke-width="0.55"/>
<path d="M610.64 120.5L608.74 124.02L612.54 124.02Z" fill="#f6faf6" stroke="#2e8b3e" stroke-width="0.55"/>
<path d="M614.97 130.9L613.07 134.42L616.87 134.42Z" fill="#f6faf6" stroke="#2e8b3e" stroke-width="0.55"/>
<path d="M619.31 124.7L617.41 128.22L621.21 128.22Z" fill="#f6faf6" stroke="#2e8b3e" stroke-width="0.55"/>
<path d="M623.64 132.8L621.74 136.31L625.54 136.31Z" fill="#f6faf6" stroke="#2e8b3e" stroke-width="0.55"/>
<path d="M627.98 127.9L626.08 131.42L629.88 131.42Z" fill="#f6faf6" stroke="#2e8b3e" stroke-width="0.55"/>
<path d="M632.31 132.1L630.41 135.62L634.21 135.62Z" fill="#f6faf6" stroke="#2e8b3e" stroke-width="0.55"/>
<line x1="644.23" y1="113.9" x2="644.23" y2="126.6" stroke="#6e5f5f" stroke-width="0.9"/>
<line x1="644.23" y1="143.3" x2="644.23" y2="160.2" stroke="#6e5f5f" stroke-width="0.9"/>
<line x1="642.8" y1="113.9" x2="645.66" y2="113.9" stroke="#6e5f5f" stroke-width="1"/>
<line x1="642.8" y1="160.2" x2="645.66" y2="160.2" stroke="#6e5f5f" stroke-width="1"/>
<rect x="642.41" y="126.6" width="3.63" height="16.7" fill="#d44a32" stroke="#5e4e4e" stroke-width="0.7"/>
<line x1="642.41" y1="132" x2="646.05" y2="132" stroke="#5e4e4e" stroke-width="0.7"/>
<line x1="648.57" y1="113.6" x2="648.57" y2="126.6" stroke="#6e5f5f" stroke-width="0.9"/>
<line x1="648.57" y1="142" x2="648.57" y2="165.3" stroke="#6e5f5f" stroke-width="0.9"/>
<line x1="647.14" y1="113.6" x2="650" y2="113.6" stroke="#6e5f5f" stroke-width="1"/>
<line x1="647.14" y1="165.3" x2="650" y2="165.3" stroke="#6e5f5f" stroke-width="1"/>
<rect x="646.75" y="126.6" width="3.63" height="15.4" fill="#4f77a2" stroke="#5e4e4e" stroke-width="0.7"/>
<line x1="646.75" y1="134.7" x2="650.38" y2="134.7" stroke="#5e4e4e" stroke-width="0.7"/>
<line x1="652.9" y1="123.2" x2="652.9" y2="138.2" stroke="#6e5f5f" stroke-width="0.9"/>
<line x1="652.9" y1="167.3" x2="652.9" y2="189.4" stroke="#6e5f5f" stroke-width="0.9"/>
<line x1="651.47" y1="123.2" x2="654.33" y2="123.2" stroke="#6e5f5f" stroke-width="1"/>
<line x1="651.47" y1="189.4" x2="654.33" y2="189.4" stroke="#6e5f5f" stroke-width="1"/>
<rect x="651.08" y="138.2" width="3.63" height="29.1" fill="#5d9064" stroke="#5e4e4e" stroke-width="0.7"/>
<line x1="651.08" y1="149.5" x2="654.72" y2="149.5" stroke="#5e4e4e" stroke-width="0.7"/>
<line x1="657.24" y1="138.3" x2="657.24" y2="147.6" stroke="#6e5f5f" stroke-width="0.9"/>
<line x1="657.24" y1="154.6" x2="657.24" y2="155" stroke="#6e5f5f" stroke-width="0.9"/>
<line x1="655.81" y1="138.3" x2="658.67" y2="138.3" stroke="#6e5f5f" stroke-width="1"/>
<line x1="655.81" y1="155" x2="658.67" y2="155" stroke="#6e5f5f" stroke-width="1"/>
<rect x="655.42" y="147.6" width="3.63" height="7" fill="#a06089" stroke="#5e4e4e" stroke-width="0.7"/>
<line x1="655.42" y1="151" x2="659.05" y2="151" stroke="#5e4e4e" stroke-width="0.7"/>
<line x1="661.57" y1="126.6" x2="661.57" y2="126.6" stroke="#6e5f5f" stroke-width="0.9"/>
<line x1="661.57" y1="144.3" x2="661.57" y2="147.1" stroke="#6e5f5f" stroke-width="0.9"/>
<line x1="660.14" y1="126.6" x2="663" y2="126.6" stroke="#6e5f5f" stroke-width="1"/>
<line x1="660.14" y1="147.1" x2="663" y2="147.1" stroke="#6e5f5f" stroke-width="1"/>
<rect x="659.75" y="126.6" width="3.63" height="17.7" fill="#ea942d" stroke="#5e4e4e" stroke-width="0.7"/>
<line x1="659.75" y1="133.4" x2="663.39" y2="133.4" stroke="#5e4e4e" stroke-width="0.7"/>
<line x1="665.91" y1="128.3" x2="665.91" y2="135.3" stroke="#6e5f5f" stroke-width="0.9"/>
<line x1="665.91" y1="141.5" x2="665.91" y2="143.4" stroke="#6e5f5f" stroke-width="0.9"/>
<line x1="664.47" y1="128.3" x2="667.34" y2="128.3" stroke="#6e5f5f" stroke-width="1"/>
<line x1="664.47" y1="143.4" x2="667.34" y2="143.4" stroke="#6e5f5f" stroke-width="1"/>
<rect x="664.09" y="135.3" width="3.63" height="6.2" fill="#f3dc5e" stroke="#5e4e4e" stroke-width="0.7"/>
<line x1="664.09" y1="138" x2="667.72" y2="138" stroke="#5e4e4e" stroke-width="0.7"/>
<line x1="670.24" y1="153.2" x2="670.24" y2="153.2" stroke="#6e5f5f" stroke-width="0.9"/>
<line x1="670.24" y1="159.4" x2="670.24" y2="159.6" stroke="#6e5f5f" stroke-width="0.9"/>
<line x1="668.81" y1="153.2" x2="671.67" y2="153.2" stroke="#6e5f5f" stroke-width="1"/>
<line x1="668.81" y1="159.6" x2="671.67" y2="159.6" stroke="#6e5f5f" stroke-width="1"/>
<rect x="668.42" y="153.2" width="3.63" height="6.2" fill="#b3693b" stroke="#5e4e4e" stroke-width="0.7"/>
<line x1="668.42" y1="156" x2="672.06" y2="156" stroke="#5e4e4e" stroke-width="0.7"/>
<path d="M644.23 134.8L642.33 138.31L646.13 138.31Z" fill="#f6faf6" stroke="#2e8b3e" stroke-width="0.55"/>
<path d="M648.57 137.6L646.67 141.12L650.47 141.12Z" fill="#f6faf6" stroke="#2e8b3e" stroke-width="0.55"/>
<path d="M652.9 151.7L651 155.22L654.8 155.22Z" fill="#f6faf6" stroke="#2e8b3e" stroke-width="0.55"/>
<path d="M657.24 151.3L655.34 154.81L659.14 154.81Z" fill="#f6faf6" stroke="#2e8b3e" stroke-width="0.55"/>
<path d="M661.57 133.9L659.67 137.42L663.47 137.42Z" fill="#f6faf6" stroke="#2e8b3e" stroke-width="0.55"/>
<path d="M665.91 136.2L664.01 139.72L667.81 139.72Z" fill="#f6faf6" stroke="#2e8b3e" stroke-width="0.55"/>
<path d="M670.24 154.1L668.34 157.62L672.14 157.62Z" fill="#f6faf6" stroke="#2e8b3e" stroke-width="0.55"/>
<rect x="410.7" y="35" width="265.5" height="161.4" fill="none" stroke="#7f7070" stroke-width="0.9"/>
<line x1="408.4" y1="166.9" x2="410.7" y2="166.9" stroke="#7f7070" stroke-width="0.8"/>
<text x="396.83 400.43 402.16" y="169.6" font-size="6.72" fill="#3b3434">0.5</text>
<line x1="408.4" y1="136.3" x2="410.7" y2="136.3" stroke="#7f7070" stroke-width="0.8"/>
<text x="396.83 400.43 402.16" y="139" font-size="6.72" fill="#3b3434">0.6</text>
<line x1="408.4" y1="105.7" x2="410.7" y2="105.7" stroke="#7f7070" stroke-width="0.8"/>
<text x="396.83 400.43 402.16" y="108.4" font-size="6.72" fill="#3b3434">0.7</text>
<line x1="408.4" y1="75.1" x2="410.7" y2="75.1" stroke="#7f7070" stroke-width="0.8"/>
<text x="396.83 400.43 402.16" y="77.8" font-size="6.72" fill="#3b3434">0.8</text>
<line x1="408.4" y1="44.5" x2="410.7" y2="44.5" stroke="#7f7070" stroke-width="0.8"/>
<text x="396.83 400.43 402.16" y="47.2" font-size="6.72" fill="#3b3434">0.9</text>
<line x1="429.66" y1="196.4" x2="429.66" y2="198.7" stroke="#7f7070" stroke-width="0.8"/>
<text x="421.51 425.67 428.95 433.35" y="205.3" font-size="6.71" fill="#3b3434">BLCA</text>
<line x1="467.59" y1="196.4" x2="467.59" y2="198.7" stroke="#7f7070" stroke-width="0.8"/>
<text x="458.59 462.53 466.47 470.86" y="205.3" font-size="6.71" fill="#3b3434">SKCM</text>
<line x1="505.52" y1="196.4" x2="505.52" y2="198.7" stroke="#7f7070" stroke-width="0.8"/>
<text x="498.14 502.34 503.87 508.12" y="205.3" font-size="6.71" fill="#3b3434">KIRC</text>
<line x1="543.45" y1="196.4" x2="543.45" y2="198.7" stroke="#7f7070" stroke-width="0.8"/>
<text x="536.86 540.18 544.9" y="205.3" font-size="6.71" fill="#3b3434">LGG</text>
<line x1="581.38" y1="196.4" x2="581.38" y2="198.7" stroke="#7f7070" stroke-width="0.8"/>
<text x="572.61 577.18 581.59 585.47" y="205.3" font-size="6.71" fill="#3b3434">HNSC</text>
<line x1="619.31" y1="196.4" x2="619.31" y2="198.7" stroke="#7f7070" stroke-width="0.8"/>
<text x="610.77 614.15 618.65 622.9" y="205.3" font-size="6.71" fill="#3b3434">LUAD</text>
<line x1="657.24" y1="196.4" x2="657.24" y2="198.7" stroke="#7f7070" stroke-width="0.8"/>
<text x="649.07 652.45 656.8 660.68" y="205.3" font-size="6.71" fill="#3b3434">LUSC</text>
<text x="519.48 524.66 528.99 533.31 537.14 541.55 544.3 546.25 550.85 554.9 559.24 563.39" y="214.3" font-size="7.6" fill="#3b3434">Cancer Types</text>
<text x="358.54 363.81 368.22 372.63 376.52 381 383.84 388.26 392.67 397.07 400.98 405.35 407.52 409.73 414.22 418.65 423.13" y="115.7" font-size="7.7" fill="#3b3434" transform="rotate(-90 393 115.7)">Concordance Index</text>
<text x="448.89 455.05 460.21 465.37 469.93 475.17 478.51 483.68 488.85 494 498.58 503.68 506.22 508.84 514.09 519.27 524.53 529.28 532.06 534.82 540.05 543.31 546.03 551.22 553.59 558.52 564.38 570.92 576.8 579.51 584.68 590.09 593.01 597.96 602.42 607.83 610.63 615.15 618.41 623.68 628.96 634.2" y="31.6" font-size="8.89" fill="#3b3434">Concordance Index for 7 TCGA datasets(100)</text>
<rect x="629.2" y="37.4" width="44.6" height="50.6" fill="#ffffff" stroke="#e4dede" stroke-width="0.6" fill-opacity="0.8"/>
<rect x="630.8" y="39.4" width="10" height="3.6" fill="#d44a32" stroke="#6a5a5a" stroke-width="0.5"/>
<text x="644.34 647.78 651.33 654.89 656.48 659.99 662.98" y="42.95" font-size="4.75" fill="#3b3434">CNN-Cox</text>
<rect x="630.8" y="46.47" width="10" height="3.6" fill="#4f77a2" stroke="#6a5a5a" stroke-width="0.5"/>
<text x="644.59 647.54 651.15 652.74 656.17 659.73 663.16 666.67 669.66" y="50.02" font-size="4.75" fill="#3b3434">1D-CNNCox</text>
<rect x="630.8" y="53.54" width="10" height="3.6" fill="#5d9064" stroke="#6a5a5a" stroke-width="0.5"/>
<text x="644.46 648.01 651.57 653.16 656.67 659.66" y="57.09" font-size="4.75" fill="#3b3434">NN-Cox</text>
<rect x="630.8" y="60.61" width="10" height="3.6" fill="#a06089" stroke="#6a5a5a" stroke-width="0.5"/>
<text x="644.34 647.85 650.84 653.5 655.06 658.21" y="64.16" font-size="4.75" fill="#3b3434">Cox-EN</text>
<rect x="630.8" y="67.68" width="10" height="3.6" fill="#ea942d" stroke="#6a5a5a" stroke-width="0.5"/>
<text x="644.39 648.13 651.41" y="71.23" font-size="4.75" fill="#3b3434">GBM</text>
<rect x="630.8" y="74.75" width="10" height="3.6" fill="#f3dc5e" stroke="#6a5a5a" stroke-width="0.5"/>
<text x="644.34 647.62 650.63" y="78.3" font-size="4.75" fill="#3b3434">RSF</text>
<rect x="630.8" y="81.82" width="10" height="3.6" fill="#b3693b" stroke="#6a5a5a" stroke-width="0.5"/>
<text x="644.32 647.34 650.47 653.75" y="85.37" font-size="4.75" fill="#3b3434">SSVM</text>
</g>
<g font-family='"Liberation Sans", sans-serif'>
<polyline points="59.56,308.6 84.89,306.4 110.22,296.4 135.55,290 160.88,290 186.21,277.9 211.54,287 236.87,289.7 262.2,278.6 287.53,301.4 312.86,359.4" fill="none" stroke="#2c6ea6" stroke-width="1.1"/>
<circle cx="59.56" cy="308.6" r="2.12" fill="#2c6ea6"/>
<circle cx="84.89" cy="306.4" r="2.12" fill="#2c6ea6"/>
<circle cx="110.22" cy="296.4" r="2.12" fill="#2c6ea6"/>
<circle cx="135.55" cy="290" r="2.12" fill="#2c6ea6"/>
<circle cx="160.88" cy="290" r="2.12" fill="#2c6ea6"/>
<circle cx="186.21" cy="277.9" r="2.12" fill="#2c6ea6"/>
<circle cx="211.54" cy="287" r="2.12" fill="#2c6ea6"/>
<circle cx="236.87" cy="289.7" r="2.12" fill="#2c6ea6"/>
<circle cx="262.2" cy="278.6" r="2.12" fill="#2c6ea6"/>
<circle cx="287.53" cy="301.4" r="2.12" fill="#2c6ea6"/>
<circle cx="312.86" cy="359.4" r="2.12" fill="#2c6ea6"/>
<polyline points="59.56,319.2 84.89,313.2 110.22,296 135.55,296.1 160.88,292 186.21,278.9 211.54,300.6 236.87,287.7 262.2,278.6 287.53,301.4 312.86,359.4" fill="none" stroke="#f59a2c" stroke-width="1.1" stroke-dasharray="4.8 1.5 0.9 1.5"/>
<path d="M57.49 317.13L61.63 321.27M57.49 321.27L61.63 317.13" stroke="#f59a2c" stroke-width="0.9" fill="none"/>
<path d="M82.82 311.13L86.96 315.27M82.82 315.27L86.96 311.13" stroke="#f59a2c" stroke-width="0.9" fill="none"/>
<path d="M108.15 293.93L112.29 298.07M108.15 298.07L112.29 293.93" stroke="#f59a2c" stroke-width="0.9" fill="none"/>
<path d="M133.48 294.03L137.62 298.17M133.48 298.17L137.62 294.03" stroke="#f59a2c" stroke-width="0.9" fill="none"/>
<path d="M158.81 289.93L162.95 294.07M158.81 294.07L162.95 289.93" stroke="#f59a2c" stroke-width="0.9" fill="none"/>
<path d="M184.14 276.83L188.28 280.97M184.14 280.97L188.28 276.83" stroke="#f59a2c" stroke-width="0.9" fill="none"/>
<path d="M209.47 298.53L213.61 302.67M209.47 302.67L213.61 298.53" stroke="#f59a2c" stroke-width="0.9" fill="none"/>
<path d="M234.8 285.63L238.94 289.77M234.8 289.77L238.94 285.63" stroke="#f59a2c" stroke-width="0.9" fill="none"/>
<path d="M260.13 276.53L264.27 280.67M260.13 280.67L264.27 276.53" stroke="#f59a2c" stroke-width="0.9" fill="none"/>
<path d="M285.46 299.33L289.6 303.47M285.46 303.47L289.6 299.33" stroke="#f59a2c" stroke-width="0.9" fill="none"/>
<path d="M310.79 357.33L314.93 361.47M310.79 361.47L314.93 357.33" stroke="#f59a2c" stroke-width="0.9" fill="none"/>
<polyline points="59.56,351.4 84.89,352.1 110.22,337.9 135.55,334.6 160.88,312.4 186.21,301.2 211.54,327.4 236.87,318.8 262.2,324.3 287.53,349.8 312.86,389.4" fill="none" stroke="#2f8a4c" stroke-width="1.1" stroke-dasharray="3.6 1.6"/>
<path d="M62.09 351.4L57.72 348.87L57.72 353.93Z" fill="#2f8a4c"/>
<path d="M87.42 352.1L83.05 349.57L83.05 354.63Z" fill="#2f8a4c"/>
<path d="M112.75 337.9L108.38 335.37L108.38 340.43Z" fill="#2f8a4c"/>
<path d="M138.08 334.6L133.71 332.07L133.71 337.13Z" fill="#2f8a4c"/>
<path d="M163.41 312.4L159.04 309.87L159.04 314.93Z" fill="#2f8a4c"/>
<path d="M188.74 301.2L184.37 298.67L184.37 303.73Z" fill="#2f8a4c"/>
<path d="M214.07 327.4L209.7 324.87L209.7 329.93Z" fill="#2f8a4c"/>
<path d="M239.4 318.8L235.03 316.27L235.03 321.33Z" fill="#2f8a4c"/>
<path d="M264.73 324.3L260.36 321.77L260.36 326.83Z" fill="#2f8a4c"/>
<path d="M290.06 349.8L285.69 347.27L285.69 352.33Z" fill="#2f8a4c"/>
<path d="M315.39 389.4L311.02 386.87L311.02 391.93Z" fill="#2f8a4c"/>
<polyline points="59.56,309.2 84.89,300.3 110.22,295.3 135.55,297.6 160.88,292.7 186.21,287.4 211.54,305.7 236.87,302.9 262.2,313.5 287.53,324.4 312.86,354.7" fill="none" stroke="#dc5234" stroke-width="1.1"/>
<path d="M59.56 306.67L57.03 311.04L62.09 311.04Z" fill="#dc5234"/>
<path d="M84.89 297.77L82.36 302.14L87.42 302.14Z" fill="#dc5234"/>
<path d="M110.22 292.77L107.69 297.14L112.75 297.14Z" fill="#dc5234"/>
<path d="M135.55 295.07L133.02 299.44L138.08 299.44Z" fill="#dc5234"/>
<path d="M160.88 290.17L158.35 294.54L163.41 294.54Z" fill="#dc5234"/>
<path d="M186.21 284.87L183.68 289.24L188.74 289.24Z" fill="#dc5234"/>
<path d="M211.54 303.17L209.01 307.54L214.07 307.54Z" fill="#dc5234"/>
<path d="M236.87 300.37L234.34 304.74L239.4 304.74Z" fill="#dc5234"/>
<path d="M262.2 310.97L259.67 315.34L264.73 315.34Z" fill="#dc5234"/>
<path d="M287.53 321.87L285 326.24L290.06 326.24Z" fill="#dc5234"/>
<path d="M312.86 352.17L310.33 356.54L315.39 356.54Z" fill="#dc5234"/>
<polyline points="59.56,347.6 84.89,336.7 110.22,342.7 135.55,314.8 160.88,312.4 186.21,305 211.54,300.8 236.87,337.9 262.2,337 287.53,361.6 312.86,395.4" fill="none" stroke="#a77aaa" stroke-width="1.1" stroke-dasharray="4.8 1.5 0.9 1.5"/>
<path d="M59.56 350.13L57.03 345.76L62.09 345.76Z" fill="#a77aaa"/>
<path d="M84.89 339.23L82.36 334.86L87.42 334.86Z" fill="#a77aaa"/>
<path d="M110.22 345.23L107.69 340.86L112.75 340.86Z" fill="#a77aaa"/>
<path d="M135.55 317.33L133.02 312.96L138.08 312.96Z" fill="#a77aaa"/>
<path d="M160.88 314.93L158.35 310.56L163.41 310.56Z" fill="#a77aaa"/>
<path d="M186.21 307.53L183.68 303.16L188.74 303.16Z" fill="#a77aaa"/>
<path d="M211.54 303.33L209.01 298.96L214.07 298.96Z" fill="#a77aaa"/>
<path d="M236.87 340.43L234.34 336.06L239.4 336.06Z" fill="#a77aaa"/>
<path d="M262.2 339.53L259.67 335.16L264.73 335.16Z" fill="#a77aaa"/>
<path d="M287.53 364.13L285 359.76L290.06 359.76Z" fill="#a77aaa"/>
<path d="M312.86 397.93L310.33 393.56L315.39 393.56Z" fill="#a77aaa"/>
<rect x="46.9" y="270.6" width="278.5" height="135.8" fill="none" stroke="#7f7070" stroke-width="0.9"/>
<line x1="44.6" y1="270.6" x2="46.9" y2="270.6" stroke="#7f7070" stroke-width="0.8"/>
<text x="28.8 32.58 34.44 38.2" y="273.4" font-size="6.89" fill="#3b3434">0.69</text>
<line x1="44.6" y1="290" x2="46.9" y2="290" stroke="#7f7070" stroke-width="0.8"/>
<text x="28.8 32.58 34.44 38.2" y="292.8" font-size="6.89" fill="#3b3434">0.68</text>
<line x1="44.6" y1="309.4" x2="46.9" y2="309.4" stroke="#7f7070" stroke-width="0.8"/>
<text x="28.8 32.58 34.44 38.2" y="312.2" font-size="6.89" fill="#3b3434">0.67</text>
<line x1="44.6" y1="328.8" x2="46.9" y2="328.8" stroke="#7f7070" stroke-width="0.8"/>
<text x="28.8 32.58 34.44 38.2" y="331.6" font-size="6.89" fill="#3b3434">0.66</text>
<line x1="44.6" y1="348.2" x2="46.9" y2="348.2" stroke="#7f7070" stroke-width="0.8"/>
<text x="28.8 32.58 34.44 38.2" y="351" font-size="6.89" fill="#3b3434">0.65</text>
<line x1="44.6" y1="367.6" x2="46.9" y2="367.6" stroke="#7f7070" stroke-width="0.8"/>
<text x="28.8 32.58 34.44 38.2" y="370.4" font-size="6.89" fill="#3b3434">0.64</text>
<line x1="44.6" y1="387" x2="46.9" y2="387" stroke="#7f7070" stroke-width="0.8"/>
<text x="28.8 32.58 34.44 38.2" y="389.8" font-size="6.89" fill="#3b3434">0.63</text>
<line x1="44.6" y1="406.4" x2="46.9" y2="406.4" stroke="#7f7070" stroke-width="0.8"/>
<text x="28.8 32.58 34.44 38.2" y="409.2" font-size="6.89" fill="#3b3434">0.62</text>
<line x1="59.56" y1="406.4" x2="59.56" y2="408.7" stroke="#7f7070" stroke-width="0.8"/>
<text x="55.6 59.67" y="415.9" font-size="6.91" fill="#3b3434">25</text>
<line x1="84.89" y1="406.4" x2="84.89" y2="408.7" stroke="#7f7070" stroke-width="0.8"/>
<text x="80.93 85" y="415.9" font-size="6.91" fill="#3b3434">49</text>
<line x1="110.22" y1="406.4" x2="110.22" y2="408.7" stroke="#7f7070" stroke-width="0.8"/>
<text x="106.26 110.33" y="415.9" font-size="6.91" fill="#3b3434">81</text>
<line x1="135.55" y1="406.4" x2="135.55" y2="408.7" stroke="#7f7070" stroke-width="0.8"/>
<text x="129.56 133.63 137.7" y="415.9" font-size="6.91" fill="#3b3434">100</text>
<line x1="160.88" y1="406.4" x2="160.88" y2="408.7" stroke="#7f7070" stroke-width="0.8"/>
<text x="154.89 158.96 163.03" y="415.9" font-size="6.91" fill="#3b3434">144</text>
<line x1="186.21" y1="406.4" x2="186.21" y2="408.7" stroke="#7f7070" stroke-width="0.8"/>
<text x="180.22 184.29 188.36" y="415.9" font-size="6.91" fill="#3b3434">196</text>
<line x1="211.54" y1="406.4" x2="211.54" y2="408.7" stroke="#7f7070" stroke-width="0.8"/>
<text x="205.55 209.62 213.69" y="415.9" font-size="6.91" fill="#3b3434">500</text>
<line x1="236.87" y1="406.4" x2="236.87" y2="408.7" stroke="#7f7070" stroke-width="0.8"/>
<text x="228.84 232.91 236.98 241.06" y="415.9" font-size="6.91" fill="#3b3434">1000</text>
<line x1="262.2" y1="406.4" x2="262.2" y2="408.7" stroke="#7f7070" stroke-width="0.8"/>
<text x="254.17 258.24 262.31 266.39" y="415.9" font-size="6.91" fill="#3b3434">2000</text>
<line x1="287.53" y1="406.4" x2="287.53" y2="408.7" stroke="#7f7070" stroke-width="0.8"/>
<text x="279.5 283.57 287.64 291.72" y="415.9" font-size="6.91" fill="#3b3434">3000</text>
<line x1="312.86" y1="406.4" x2="312.86" y2="408.7" stroke="#7f7070" stroke-width="0.8"/>
<text x="304.83 308.9 312.97 317.05" y="415.9" font-size="6.91" fill="#3b3434">6407</text>
<text x="134.72 140.44 145.32 152.3 156.91 161.54 164.44 166.81 171.42 173.89 176.34 180.95 185.55 190.16 194.93 197.61 199.61 203.65 206.12 208.63 213.15 217.92 220.64 225.34 228.28 232.68" y="424.6" font-size="7.59" fill="#3b3434">Number of genetic features</text>
<text x="-17.44 -10.8 -8.76 -4.51 -1.52 3 5.8 10.54 14.87 19.59 22.58 27.27 31.97 36.55 38.66 44.14 46.97 49.11 53.88 58.58 63.33" y="338.5" font-size="7.7" fill="#3b3434" transform="rotate(-90 25 338.5)">Micro-average C-index</text>
<text x="72.43 78.9 84.34 89.76 94.57 100.06 103.59 109.04 114.47 119.9 124.72 130.07 132.93 135.37 140.9 146.35 151.88 156.87 159.79 162.72 168.2 171.64 174.51 180.03 182.52 185.6 188.54 194.04 197.49 202.94 208.69 211.79 214.66 220.19 225.93 234.23 239.68 245.18 248.62 251.39 256.88 259.8 262.72 265.66 271.02 276.68 279.88 285.46 288.92 294.13" y="266.8" font-size="9.2" fill="#3b3434">Concordance index for different number of features</text>
<rect x="49.2" y="365.5" width="77.3" height="38.1" fill="#ffffff" stroke="#e4dede" stroke-width="0.6"/>
<line x1="50.8" y1="369.5" x2="61.8" y2="369.5" stroke="#2c6ea6" stroke-width="1.05"/>
<circle cx="56.3" cy="369.5" r="1.75" fill="#2c6ea6"/>
<text x="64.94 68.56 72.3 76.04 77.72 81.41 84.56 87.39 89.02 92.17 95.09 98.17 99.86 102.94 104.63 107.81 110.99 114.17" y="371.3" font-size="5" fill="#3b3434">CNN-Cox avg 0.6755</text>
<line x1="50.8" y1="376.92" x2="61.8" y2="376.92" stroke="#f59a2c" stroke-width="1.05" stroke-dasharray="4.8 1.5 0.9 1.5"/>
<path d="M54.59 375.21L58.01 378.63M54.59 378.63L58.01 375.21" stroke="#f59a2c" stroke-width="0.9" fill="none"/>
<text x="65.2 68.3 72.1 73.78 77.39 81.13 84.75 88.44 91.59 94.42 96.05 99.2 102.13 105.2 106.89 109.97 111.66 114.84 118.02 121.21" y="378.72" font-size="5" fill="#3b3434">1D-CNNCox avg 0.6737</text>
<line x1="50.8" y1="384.34" x2="61.8" y2="384.34" stroke="#2f8a4c" stroke-width="1.05" stroke-dasharray="3.6 1.6"/>
<path d="M58.39 384.34L54.78 382.25L54.78 386.43Z" fill="#2f8a4c"/>
<text x="65.06 68.8 72.55 74.22 77.92 81.06 83.89 85.52 88.68 91.6 94.68 96.37 99.45 101.14 104.32 107.5 110.68" y="386.14" font-size="5" fill="#3b3434">NN-Cox avg 0.6562</text>
<line x1="50.8" y1="391.76" x2="61.8" y2="391.76" stroke="#dc5234" stroke-width="1.05"/>
<path d="M56.3 389.67L54.21 393.28L58.39 393.28Z" fill="#dc5234"/>
<text x="64.93 68.39 71.56 74.62 76.25 79.41 82.33 85.41 87.1 90.18 91.87 95.05 98.23 101.41" y="393.56" font-size="5" fill="#3b3434">RSF avg 0.6711</text>
<line x1="50.8" y1="399.18" x2="61.8" y2="399.18" stroke="#a77aaa" stroke-width="1.05" stroke-dasharray="4.8 1.5 0.9 1.5"/>
<path d="M56.3 401.27L54.21 397.66L58.39 397.66Z" fill="#a77aaa"/>
<text x="64.99 68.92 72.38 76.72 78.35 81.5 84.43 87.5 89.19 92.28 93.96 97.15 100.33 103.51" y="400.98" font-size="5" fill="#3b3434">GBM avg 0.6563</text>
</g>
<g font-family='"Liberation Sans", sans-serif'>
<rect x="413.89" y="322.87" width="3.86" height="31.58" fill="#c8aa18"/>
<rect x="417.75" y="346.06" width="3.86" height="8.39" fill="#fbcd05"/>
<rect x="421.61" y="298.91" width="3.86" height="55.54" fill="#f89c0c"/>
<rect x="425.47" y="330.04" width="3.86" height="24.41" fill="#dab68a"/>
<rect x="429.33" y="328.99" width="3.86" height="25.46" fill="#1a8db2"/>
<rect x="433.19" y="342.28" width="3.86" height="12.17" fill="#7b7480"/>
<rect x="437.05" y="354.45" width="3.86" height="4.68" fill="#fc8c9c"/>
<rect x="452.54" y="334.28" width="3.86" height="20.17" fill="#c8aa18"/>
<rect x="456.4" y="349.92" width="3.86" height="4.53" fill="#fbcd05"/>
<rect x="460.26" y="324.23" width="3.86" height="30.22" fill="#f89c0c"/>
<rect x="464.12" y="325.96" width="3.86" height="28.49" fill="#dab68a"/>
<rect x="467.98" y="323.02" width="3.86" height="31.43" fill="#1a8db2"/>
<rect x="471.84" y="287.05" width="3.86" height="67.4" fill="#7b7480"/>
<rect x="475.7" y="327.25" width="3.86" height="27.2" fill="#fc8c9c"/>
<rect x="491.19" y="341.98" width="3.86" height="12.47" fill="#c8aa18"/>
<rect x="495.05" y="335.86" width="3.86" height="18.59" fill="#fbcd05"/>
<rect x="498.91" y="350.97" width="3.86" height="3.48" fill="#f89c0c"/>
<rect x="502.77" y="354.45" width="3.86" height="39.06" fill="#dab68a"/>
<rect x="506.63" y="342.28" width="3.86" height="12.17" fill="#1a8db2"/>
<rect x="510.49" y="347.88" width="3.86" height="6.57" fill="#7b7480"/>
<rect x="514.35" y="354.45" width="3.86" height="45.18" fill="#fc8c9c"/>
<rect x="529.84" y="342.74" width="3.86" height="11.71" fill="#c8aa18"/>
<rect x="533.7" y="338.73" width="3.86" height="15.72" fill="#fbcd05"/>
<rect x="537.56" y="339.94" width="3.86" height="14.51" fill="#f89c0c"/>
<rect x="541.42" y="354.45" width="3.86" height="7.4" fill="#dab68a"/>
<rect x="545.28" y="347.12" width="3.86" height="7.33" fill="#1a8db2"/>
<rect x="549.14" y="326.87" width="3.86" height="27.58" fill="#7b7480"/>
<rect x="553" y="354.45" width="3.86" height="32.57" fill="#fc8c9c"/>
<rect x="568.49" y="308.13" width="3.86" height="46.32" fill="#c8aa18"/>
<rect x="572.35" y="301.03" width="3.86" height="53.42" fill="#fbcd05"/>
<rect x="576.21" y="325.59" width="3.86" height="28.86" fill="#f89c0c"/>
<rect x="580.07" y="277.23" width="3.86" height="77.22" fill="#dab68a"/>
<rect x="583.93" y="335.03" width="3.86" height="19.42" fill="#1a8db2"/>
<rect x="587.79" y="331.25" width="3.86" height="23.2" fill="#7b7480"/>
<rect x="591.65" y="310.85" width="3.86" height="43.6" fill="#fc8c9c"/>
<rect x="607.14" y="312.97" width="3.86" height="41.48" fill="#c8aa18"/>
<rect x="611" y="315.76" width="3.86" height="38.69" fill="#fbcd05"/>
<rect x="614.86" y="341.98" width="3.86" height="12.47" fill="#f89c0c"/>
<rect x="618.72" y="334.65" width="3.86" height="19.8" fill="#dab68a"/>
<rect x="622.58" y="315.08" width="3.86" height="39.37" fill="#1a8db2"/>
<rect x="626.44" y="303.98" width="3.86" height="50.47" fill="#7b7480"/>
<rect x="630.3" y="354.45" width="3.86" height="1.59" fill="#fc8c9c"/>
<rect x="645.79" y="326.19" width="3.86" height="28.26" fill="#c8aa18"/>
<rect x="649.65" y="319.62" width="3.86" height="34.83" fill="#fbcd05"/>
<rect x="653.51" y="340.85" width="3.86" height="13.6" fill="#f89c0c"/>
<rect x="657.37" y="339.19" width="3.86" height="15.26" fill="#dab68a"/>
<rect x="661.23" y="333.29" width="3.86" height="21.16" fill="#1a8db2"/>
<rect x="665.09" y="323.02" width="3.86" height="31.43" fill="#7b7480"/>
<rect x="668.95" y="327.02" width="3.86" height="27.43" fill="#fc8c9c"/>
<line x1="404.5" y1="278.89" x2="682.4" y2="278.89" stroke="#bcaeae" stroke-width="0.95" stroke-opacity="0.6"/>
<line x1="404.5" y1="294" x2="682.4" y2="294" stroke="#bcaeae" stroke-width="0.95" stroke-opacity="0.6"/>
<line x1="404.5" y1="309.11" x2="682.4" y2="309.11" stroke="#bcaeae" stroke-width="0.95" stroke-opacity="0.6"/>
<line x1="404.5" y1="324.23" x2="682.4" y2="324.23" stroke="#bcaeae" stroke-width="0.95" stroke-opacity="0.6"/>
<line x1="404.5" y1="339.34" x2="682.4" y2="339.34" stroke="#bcaeae" stroke-width="0.95" stroke-opacity="0.6"/>
<line x1="404.5" y1="354.45" x2="682.4" y2="354.45" stroke="#bcaeae" stroke-width="0.95" stroke-opacity="0.6"/>
<line x1="404.5" y1="369.56" x2="682.4" y2="369.56" stroke="#bcaeae" stroke-width="0.95" stroke-opacity="0.6"/>
<line x1="404.5" y1="384.67" x2="682.4" y2="384.67" stroke="#bcaeae" stroke-width="0.95" stroke-opacity="0.6"/>
<line x1="404.5" y1="399.79" x2="682.4" y2="399.79" stroke="#bcaeae" stroke-width="0.95" stroke-opacity="0.6"/>
<line x1="427.4" y1="270.6" x2="427.4" y2="406.4" stroke="#bcaeae" stroke-width="0.95" stroke-opacity="0.6"/>
<line x1="466.05" y1="270.6" x2="466.05" y2="406.4" stroke="#bcaeae" stroke-width="0.95" stroke-opacity="0.6"/>
<line x1="504.7" y1="270.6" x2="504.7" y2="406.4" stroke="#bcaeae" stroke-width="0.95" stroke-opacity="0.6"/>
<line x1="543.35" y1="270.6" x2="543.35" y2="406.4" stroke="#bcaeae" stroke-width="0.95" stroke-opacity="0.6"/>
<line x1="582" y1="270.6" x2="582" y2="406.4" stroke="#bcaeae" stroke-width="0.95" stroke-opacity="0.6"/>
<line x1="620.65" y1="270.6" x2="620.65" y2="406.4" stroke="#bcaeae" stroke-width="0.95" stroke-opacity="0.6"/>
<line x1="659.3" y1="270.6" x2="659.3" y2="406.4" stroke="#bcaeae" stroke-width="0.95" stroke-opacity="0.6"/>
<rect x="404.5" y="270.6" width="277.9" height="135.8" fill="none" stroke="#7f7070" stroke-width="0.9"/>
<line x1="402.2" y1="278.89" x2="404.5" y2="278.89" stroke="#7f7070" stroke-width="0.8"/>
<text x="385.81 389.7 391.72 395.67" y="281.49" font-size="6.7" fill="#3b3434">0.10</text>
<line x1="402.2" y1="294" x2="404.5" y2="294" stroke="#7f7070" stroke-width="0.8"/>
<text x="385.81 389.7 391.72 395.67" y="296.6" font-size="6.7" fill="#3b3434">0.08</text>
<line x1="402.2" y1="309.11" x2="404.5" y2="309.11" stroke="#7f7070" stroke-width="0.8"/>
<text x="385.81 389.7 391.72 395.67" y="311.71" font-size="6.7" fill="#3b3434">0.06</text>
<line x1="402.2" y1="324.23" x2="404.5" y2="324.23" stroke="#7f7070" stroke-width="0.8"/>
<text x="385.81 389.7 391.72 395.67" y="326.83" font-size="6.7" fill="#3b3434">0.04</text>
<line x1="402.2" y1="339.34" x2="404.5" y2="339.34" stroke="#7f7070" stroke-width="0.8"/>
<text x="385.81 389.7 391.72 395.67" y="341.94" font-size="6.7" fill="#3b3434">0.02</text>
<line x1="402.2" y1="354.45" x2="404.5" y2="354.45" stroke="#7f7070" stroke-width="0.8"/>
<text x="385.81 389.7 391.72 395.67" y="357.05" font-size="6.7" fill="#3b3434">0.00</text>
<line x1="402.2" y1="369.56" x2="404.5" y2="369.56" stroke="#7f7070" stroke-width="0.8"/>
<text x="381.14 385.81 389.7 391.72 395.67" y="372.16" font-size="6.7" fill="#3b3434">−0.02</text>
<line x1="402.2" y1="384.67" x2="404.5" y2="384.67" stroke="#7f7070" stroke-width="0.8"/>
<text x="381.14 385.81 389.7 391.72 395.67" y="387.27" font-size="6.7" fill="#3b3434">−0.04</text>
<line x1="402.2" y1="399.79" x2="404.5" y2="399.79" stroke="#7f7070" stroke-width="0.8"/>
<text x="381.14 385.81 389.7 391.72 395.67" y="402.39" font-size="6.7" fill="#3b3434">−0.06</text>
<line x1="427.4" y1="406.4" x2="427.4" y2="408.7" stroke="#7f7070" stroke-width="0.8"/>
<text x="419.11 423.35 426.67 431.14" y="415.7" font-size="6.82" fill="#3b3434">BLCA</text>
<line x1="466.05" y1="406.4" x2="466.05" y2="408.7" stroke="#7f7070" stroke-width="0.8"/>
<text x="457.14 461.79 466.26 470.21" y="415.7" font-size="6.82" fill="#3b3434">HNSC</text>
<line x1="504.7" y1="406.4" x2="504.7" y2="408.7" stroke="#7f7070" stroke-width="0.8"/>
<text x="497.19 501.47 503.02 507.34" y="415.7" font-size="6.82" fill="#3b3434">KIRC</text>
<line x1="543.35" y1="406.4" x2="543.35" y2="408.7" stroke="#7f7070" stroke-width="0.8"/>
<text x="536.65 540.02 544.83" y="415.7" font-size="6.82" fill="#3b3434">LGG</text>
<line x1="582" y1="406.4" x2="582" y2="408.7" stroke="#7f7070" stroke-width="0.8"/>
<text x="573.33 576.76 581.33 585.65" y="415.7" font-size="6.82" fill="#3b3434">LUAD</text>
<line x1="620.65" y1="406.4" x2="620.65" y2="408.7" stroke="#7f7070" stroke-width="0.8"/>
<text x="612.35 615.78 620.21 624.15" y="415.7" font-size="6.82" fill="#3b3434">LUSC</text>
<line x1="659.3" y1="406.4" x2="659.3" y2="408.7" stroke="#7f7070" stroke-width="0.8"/>
<text x="650.15 654.15 658.16 662.62" y="415.7" font-size="6.82" fill="#3b3434">SKCM</text>
<text x="518.67 524.03 528.52 533 536.98 541.53 544.37 546.45 551.2 555.41 559.92 564.23" y="424.8" font-size="7.6" fill="#3b3434">Cancer Types</text>
<text x="320.12 325.64 330.28 334.91 339.02 343.7 346.73 351.38 356.03 360.66 364.78 369.33 371.62 374.01 378.73 383.39 388.11 392.35 394.83 399.52 401.65 404.28 406.81 411.49 414.46 419.12 423.74 427.87" y="338.5" font-size="7.7" fill="#3b3434" transform="rotate(-90 376.3 338.5)">Concordance Index difference</text>
<text x="432.32 438.8 444.23 449.65 454.45 459.94 463.47 468.91 474.35 479.77 484.59 489.94 492.61 495.38 500.91 506.36 511.88 516.87 519.74 525.26 527.75 530.82 533.75 539.25 542.7 548.15 553.57 558.39 563.74 566.66 569.58 575.07 578.5 581.38 586.82 589.34 594.53 600.7 607.57 613.73 616.6 622.04 627.7 630.8 636.01 640.7 646.37 649.33" y="266.9" font-size="9.2" fill="#3b3434">Concordance Index difference for 7 TCGA datasets</text>
<rect x="645.8" y="272.9" width="34.6" height="38.9" fill="#ffffff" stroke="#e4dede" stroke-width="0.6" fill-opacity="0.85"/>
<rect x="646.8" y="274.65" width="7.7" height="2.3" fill="#c8aa18"/>
<text x="657.6 660.24 662.97 665.79 666.92 669.65 671.97" y="277.25" font-size="4.09" fill="#3b3434" style="stroke-width:0">CNN-Cox</text>
<rect x="646.8" y="280.12" width="7.7" height="2.3" fill="#fbcd05"/>
<text x="657.82 660.05 662.91 664.05 666.69 669.42 672.06 674.79 677.1" y="282.72" font-size="4.09" fill="#3b3434" style="stroke-width:0">1D-CNNCox</text>
<rect x="646.8" y="285.59" width="7.7" height="2.3" fill="#f89c0c"/>
<text x="657.69 660.42 663.24 664.38 667.11 669.42" y="288.19" font-size="4.09" fill="#3b3434" style="stroke-width:0">NN-Cox</text>
<rect x="646.8" y="291.06" width="7.7" height="2.3" fill="#dab68a"/>
<text x="657.6 660.33 662.64 664.72 665.85 668.25" y="293.66" font-size="4.09" fill="#3b3434" style="stroke-width:0">Cox-EN</text>
<rect x="646.8" y="296.53" width="7.7" height="2.3" fill="#1a8db2"/>
<text x="657.59 660.13 662.45" y="299.13" font-size="4.09" fill="#3b3434" style="stroke-width:0">RSF</text>
<rect x="646.8" y="302" width="7.7" height="2.3" fill="#7b7480"/>
<text x="657.62 660.52 663" y="304.6" font-size="4.09" fill="#3b3434" style="stroke-width:0">GBM</text>
<rect x="646.8" y="307.47" width="7.7" height="2.3" fill="#fc8c9c"/>
<text x="657.6 659.91 662.32 664.8" y="310.07" font-size="4.09" fill="#3b3434" style="stroke-width:0">SSVM</text>
</g>
</svg>
</body></html>
